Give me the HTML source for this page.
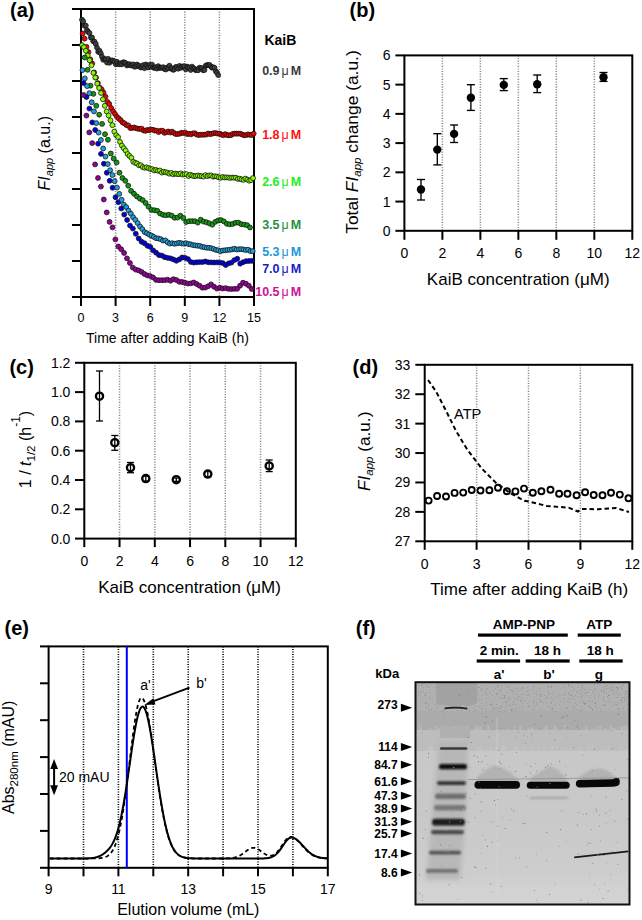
<!DOCTYPE html>
<html><head><meta charset="utf-8"><style>
html,body{margin:0;padding:0;background:#fff;width:642px;height:920px;overflow:hidden;}
svg{display:block;font-family:"Liberation Sans", sans-serif;}
</style></head><body>
<svg width="642" height="920" viewBox="0 0 642 920">
<rect width="642" height="920" fill="#fff"/>
<line x1="115.60" y1="9.00" x2="115.60" y2="297.00" stroke="#858585" stroke-width="1.5" stroke-dasharray="1.1,1.5"/>
<line x1="150.20" y1="9.00" x2="150.20" y2="297.00" stroke="#858585" stroke-width="1.5" stroke-dasharray="1.1,1.5"/>
<line x1="184.80" y1="9.00" x2="184.80" y2="297.00" stroke="#858585" stroke-width="1.5" stroke-dasharray="1.1,1.5"/>
<line x1="219.40" y1="9.00" x2="219.40" y2="297.00" stroke="#858585" stroke-width="1.5" stroke-dasharray="1.1,1.5"/>
<rect x="81" y="9" width="173" height="288" fill="none" stroke="#000" stroke-width="2"/>
<line x1="72.00" y1="9.00" x2="81.00" y2="9.00" stroke="#000" stroke-width="2" />
<line x1="72.00" y1="45.00" x2="81.00" y2="45.00" stroke="#000" stroke-width="2" />
<line x1="72.00" y1="81.00" x2="81.00" y2="81.00" stroke="#000" stroke-width="2" />
<line x1="72.00" y1="117.00" x2="81.00" y2="117.00" stroke="#000" stroke-width="2" />
<line x1="72.00" y1="153.00" x2="81.00" y2="153.00" stroke="#000" stroke-width="2" />
<line x1="72.00" y1="189.00" x2="81.00" y2="189.00" stroke="#000" stroke-width="2" />
<line x1="72.00" y1="225.00" x2="81.00" y2="225.00" stroke="#000" stroke-width="2" />
<line x1="72.00" y1="261.00" x2="81.00" y2="261.00" stroke="#000" stroke-width="2" />
<line x1="72.00" y1="297.00" x2="81.00" y2="297.00" stroke="#000" stroke-width="2" />
<line x1="81.00" y1="297.00" x2="81.00" y2="306.00" stroke="#000" stroke-width="2" />
<text x="81.00" y="321.50" font-size="12.5" text-anchor="middle" font-weight="normal" fill="#000" >0</text>
<line x1="115.60" y1="297.00" x2="115.60" y2="306.00" stroke="#000" stroke-width="2" />
<text x="115.60" y="321.50" font-size="12.5" text-anchor="middle" font-weight="normal" fill="#000" >3</text>
<line x1="150.20" y1="297.00" x2="150.20" y2="306.00" stroke="#000" stroke-width="2" />
<text x="150.20" y="321.50" font-size="12.5" text-anchor="middle" font-weight="normal" fill="#000" >6</text>
<line x1="184.80" y1="297.00" x2="184.80" y2="306.00" stroke="#000" stroke-width="2" />
<text x="184.80" y="321.50" font-size="12.5" text-anchor="middle" font-weight="normal" fill="#000" >9</text>
<line x1="219.40" y1="297.00" x2="219.40" y2="306.00" stroke="#000" stroke-width="2" />
<text x="219.40" y="321.50" font-size="12.5" text-anchor="middle" font-weight="normal" fill="#000" >12</text>
<line x1="254.00" y1="297.00" x2="254.00" y2="306.00" stroke="#000" stroke-width="2" />
<text x="254.00" y="321.50" font-size="12.5" text-anchor="middle" font-weight="normal" fill="#000" >15</text>
<text x="167.50" y="343.20" font-size="14" text-anchor="middle" font-weight="normal" fill="#000" >Time after adding KaiB (h)</text>
<text transform="translate(49.8,190.4) rotate(-90)" font-size="16"><tspan font-style="italic">FI</tspan><tspan font-style="italic" font-size="11" dy="3.5">app</tspan><tspan dy="-3.5"> (a.u.)</tspan></text>
<text x="10.00" y="17.20" font-size="20" text-anchor="start" font-weight="bold" fill="#000" >(a)</text>
<line x1="442.38" y1="55.40" x2="442.38" y2="230.80" stroke="#858585" stroke-width="1.5" stroke-dasharray="1.1,1.5"/>
<line x1="480.37" y1="55.40" x2="480.37" y2="230.80" stroke="#858585" stroke-width="1.5" stroke-dasharray="1.1,1.5"/>
<line x1="518.35" y1="55.40" x2="518.35" y2="230.80" stroke="#858585" stroke-width="1.5" stroke-dasharray="1.1,1.5"/>
<line x1="556.33" y1="55.40" x2="556.33" y2="230.80" stroke="#858585" stroke-width="1.5" stroke-dasharray="1.1,1.5"/>
<line x1="594.32" y1="55.40" x2="594.32" y2="230.80" stroke="#858585" stroke-width="1.5" stroke-dasharray="1.1,1.5"/>
<rect x="404.4" y="55.4" width="227.89999999999998" height="175.4" fill="none" stroke="#000" stroke-width="2"/>
<line x1="395.40" y1="230.80" x2="404.40" y2="230.80" stroke="#000" stroke-width="2" />
<text x="390.60" y="235.80" font-size="14" text-anchor="end" font-weight="normal" fill="#000" >0</text>
<line x1="395.40" y1="201.57" x2="404.40" y2="201.57" stroke="#000" stroke-width="2" />
<text x="390.60" y="206.57" font-size="14" text-anchor="end" font-weight="normal" fill="#000" >1</text>
<line x1="395.40" y1="172.33" x2="404.40" y2="172.33" stroke="#000" stroke-width="2" />
<text x="390.60" y="177.33" font-size="14" text-anchor="end" font-weight="normal" fill="#000" >2</text>
<line x1="395.40" y1="143.10" x2="404.40" y2="143.10" stroke="#000" stroke-width="2" />
<text x="390.60" y="148.10" font-size="14" text-anchor="end" font-weight="normal" fill="#000" >3</text>
<line x1="395.40" y1="113.87" x2="404.40" y2="113.87" stroke="#000" stroke-width="2" />
<text x="390.60" y="118.87" font-size="14" text-anchor="end" font-weight="normal" fill="#000" >4</text>
<line x1="395.40" y1="84.63" x2="404.40" y2="84.63" stroke="#000" stroke-width="2" />
<text x="390.60" y="89.63" font-size="14" text-anchor="end" font-weight="normal" fill="#000" >5</text>
<line x1="395.40" y1="55.40" x2="404.40" y2="55.40" stroke="#000" stroke-width="2" />
<text x="390.60" y="60.40" font-size="14" text-anchor="end" font-weight="normal" fill="#000" >6</text>
<line x1="404.40" y1="230.80" x2="404.40" y2="239.80" stroke="#000" stroke-width="2" />
<text x="404.40" y="257.60" font-size="14" text-anchor="middle" font-weight="normal" fill="#000" >0</text>
<line x1="442.38" y1="230.80" x2="442.38" y2="239.80" stroke="#000" stroke-width="2" />
<text x="442.38" y="257.60" font-size="14" text-anchor="middle" font-weight="normal" fill="#000" >2</text>
<line x1="480.37" y1="230.80" x2="480.37" y2="239.80" stroke="#000" stroke-width="2" />
<text x="480.37" y="257.60" font-size="14" text-anchor="middle" font-weight="normal" fill="#000" >4</text>
<line x1="518.35" y1="230.80" x2="518.35" y2="239.80" stroke="#000" stroke-width="2" />
<text x="518.35" y="257.60" font-size="14" text-anchor="middle" font-weight="normal" fill="#000" >6</text>
<line x1="556.33" y1="230.80" x2="556.33" y2="239.80" stroke="#000" stroke-width="2" />
<text x="556.33" y="257.60" font-size="14" text-anchor="middle" font-weight="normal" fill="#000" >8</text>
<line x1="594.32" y1="230.80" x2="594.32" y2="239.80" stroke="#000" stroke-width="2" />
<text x="594.32" y="257.60" font-size="14" text-anchor="middle" font-weight="normal" fill="#000" >10</text>
<line x1="632.30" y1="230.80" x2="632.30" y2="239.80" stroke="#000" stroke-width="2" />
<text x="632.30" y="257.60" font-size="14" text-anchor="middle" font-weight="normal" fill="#000" >12</text>
<text x="518.20" y="285.20" font-size="17" text-anchor="middle" font-weight="normal" fill="#000" >KaiB concentration (μM)</text>
<text transform="translate(357.8,233.8) rotate(-90)" font-size="17.4">Total <tspan font-style="italic">FI</tspan><tspan font-style="italic" font-size="11.5" dy="3.5">app</tspan><tspan dy="-3.5"> change (a.u.)</tspan></text>
<text x="349.60" y="16.90" font-size="20" text-anchor="start" font-weight="bold" fill="#000" >(b)</text>
<line x1="421.00" y1="179.50" x2="421.00" y2="200.00" stroke="#000" stroke-width="1.35" />
<line x1="417.00" y1="179.50" x2="425.00" y2="179.50" stroke="#000" stroke-width="1.35" />
<line x1="417.00" y1="200.00" x2="425.00" y2="200.00" stroke="#000" stroke-width="1.35" />
<circle cx="421" cy="189.5" r="4.2" fill="#000"/>
<line x1="437.30" y1="133.70" x2="437.30" y2="164.90" stroke="#000" stroke-width="1.35" />
<line x1="433.30" y1="133.70" x2="441.30" y2="133.70" stroke="#000" stroke-width="1.35" />
<line x1="433.30" y1="164.90" x2="441.30" y2="164.90" stroke="#000" stroke-width="1.35" />
<circle cx="437.3" cy="149.6" r="4.2" fill="#000"/>
<line x1="454.10" y1="125.00" x2="454.10" y2="142.50" stroke="#000" stroke-width="1.35" />
<line x1="450.10" y1="125.00" x2="458.10" y2="125.00" stroke="#000" stroke-width="1.35" />
<line x1="450.10" y1="142.50" x2="458.10" y2="142.50" stroke="#000" stroke-width="1.35" />
<circle cx="454.1" cy="133.9" r="4.2" fill="#000"/>
<line x1="470.90" y1="84.70" x2="470.90" y2="110.40" stroke="#000" stroke-width="1.35" />
<line x1="466.90" y1="84.70" x2="474.90" y2="84.70" stroke="#000" stroke-width="1.35" />
<line x1="466.90" y1="110.40" x2="474.90" y2="110.40" stroke="#000" stroke-width="1.35" />
<circle cx="470.9" cy="97.8" r="4.2" fill="#000"/>
<line x1="503.80" y1="78.60" x2="503.80" y2="90.60" stroke="#000" stroke-width="1.35" />
<line x1="499.80" y1="78.60" x2="507.80" y2="78.60" stroke="#000" stroke-width="1.35" />
<line x1="499.80" y1="90.60" x2="507.80" y2="90.60" stroke="#000" stroke-width="1.35" />
<circle cx="503.8" cy="84.9" r="4.2" fill="#000"/>
<line x1="537.20" y1="75.00" x2="537.20" y2="92.60" stroke="#000" stroke-width="1.35" />
<line x1="533.20" y1="75.00" x2="541.20" y2="75.00" stroke="#000" stroke-width="1.35" />
<line x1="533.20" y1="92.60" x2="541.20" y2="92.60" stroke="#000" stroke-width="1.35" />
<circle cx="537.2" cy="84.2" r="4.2" fill="#000"/>
<line x1="603.50" y1="72.50" x2="603.50" y2="81.40" stroke="#000" stroke-width="1.35" />
<line x1="599.50" y1="72.50" x2="607.50" y2="72.50" stroke="#000" stroke-width="1.35" />
<line x1="599.50" y1="81.40" x2="607.50" y2="81.40" stroke="#000" stroke-width="1.35" />
<circle cx="603.5" cy="77.2" r="4.2" fill="#000"/>
<line x1="119.55" y1="362.80" x2="119.55" y2="538.60" stroke="#858585" stroke-width="1.5" stroke-dasharray="1.1,1.5"/>
<line x1="154.80" y1="362.80" x2="154.80" y2="538.60" stroke="#858585" stroke-width="1.5" stroke-dasharray="1.1,1.5"/>
<line x1="190.05" y1="362.80" x2="190.05" y2="538.60" stroke="#858585" stroke-width="1.5" stroke-dasharray="1.1,1.5"/>
<line x1="225.30" y1="362.80" x2="225.30" y2="538.60" stroke="#858585" stroke-width="1.5" stroke-dasharray="1.1,1.5"/>
<line x1="260.55" y1="362.80" x2="260.55" y2="538.60" stroke="#858585" stroke-width="1.5" stroke-dasharray="1.1,1.5"/>
<rect x="84.3" y="362.8" width="211.5" height="175.8" fill="none" stroke="#000" stroke-width="2"/>
<line x1="75.00" y1="538.60" x2="84.30" y2="538.60" stroke="#000" stroke-width="2" />
<text x="70.40" y="543.60" font-size="14" text-anchor="end" font-weight="normal" fill="#000" >0.0</text>
<line x1="75.00" y1="509.30" x2="84.30" y2="509.30" stroke="#000" stroke-width="2" />
<text x="70.40" y="514.30" font-size="14" text-anchor="end" font-weight="normal" fill="#000" >0.2</text>
<line x1="75.00" y1="480.00" x2="84.30" y2="480.00" stroke="#000" stroke-width="2" />
<text x="70.40" y="485.00" font-size="14" text-anchor="end" font-weight="normal" fill="#000" >0.4</text>
<line x1="75.00" y1="450.70" x2="84.30" y2="450.70" stroke="#000" stroke-width="2" />
<text x="70.40" y="455.70" font-size="14" text-anchor="end" font-weight="normal" fill="#000" >0.6</text>
<line x1="75.00" y1="421.40" x2="84.30" y2="421.40" stroke="#000" stroke-width="2" />
<text x="70.40" y="426.40" font-size="14" text-anchor="end" font-weight="normal" fill="#000" >0.8</text>
<line x1="75.00" y1="392.10" x2="84.30" y2="392.10" stroke="#000" stroke-width="2" />
<text x="70.40" y="397.10" font-size="14" text-anchor="end" font-weight="normal" fill="#000" >1.0</text>
<line x1="75.00" y1="362.80" x2="84.30" y2="362.80" stroke="#000" stroke-width="2" />
<text x="70.40" y="367.80" font-size="14" text-anchor="end" font-weight="normal" fill="#000" >1.2</text>
<line x1="84.30" y1="538.60" x2="84.30" y2="547.10" stroke="#000" stroke-width="2" />
<text x="84.30" y="566.00" font-size="14" text-anchor="middle" font-weight="normal" fill="#000" >0</text>
<line x1="119.55" y1="538.60" x2="119.55" y2="547.10" stroke="#000" stroke-width="2" />
<text x="119.55" y="566.00" font-size="14" text-anchor="middle" font-weight="normal" fill="#000" >2</text>
<line x1="154.80" y1="538.60" x2="154.80" y2="547.10" stroke="#000" stroke-width="2" />
<text x="154.80" y="566.00" font-size="14" text-anchor="middle" font-weight="normal" fill="#000" >4</text>
<line x1="190.05" y1="538.60" x2="190.05" y2="547.10" stroke="#000" stroke-width="2" />
<text x="190.05" y="566.00" font-size="14" text-anchor="middle" font-weight="normal" fill="#000" >6</text>
<line x1="225.30" y1="538.60" x2="225.30" y2="547.10" stroke="#000" stroke-width="2" />
<text x="225.30" y="566.00" font-size="14" text-anchor="middle" font-weight="normal" fill="#000" >8</text>
<line x1="260.55" y1="538.60" x2="260.55" y2="547.10" stroke="#000" stroke-width="2" />
<text x="260.55" y="566.00" font-size="14" text-anchor="middle" font-weight="normal" fill="#000" >10</text>
<line x1="295.80" y1="538.60" x2="295.80" y2="547.10" stroke="#000" stroke-width="2" />
<text x="295.80" y="566.00" font-size="14" text-anchor="middle" font-weight="normal" fill="#000" >12</text>
<text x="189.60" y="592.50" font-size="17" text-anchor="middle" font-weight="normal" fill="#000" >KaiB concentration (μM)</text>
<text transform="translate(30.9,488.2) rotate(-90)" font-size="16">1 / <tspan font-style="italic">t</tspan><tspan font-size="11.5" dy="3.8">1/2</tspan><tspan dy="-3.8"> (h</tspan><tspan font-size="12" dy="-11">-1</tspan><tspan dy="11">)</tspan></text>
<text x="9.40" y="374.40" font-size="20" text-anchor="start" font-weight="bold" fill="#000" >(c)</text>
<circle cx="99.5" cy="396.2" r="3.6" fill="#fff" stroke="#000" stroke-width="2.3"/>
<line x1="99.50" y1="371.00" x2="99.50" y2="421.00" stroke="#000" stroke-width="1.3" />
<line x1="96.00" y1="371.00" x2="103.00" y2="371.00" stroke="#000" stroke-width="1.3" />
<line x1="96.00" y1="421.00" x2="103.00" y2="421.00" stroke="#000" stroke-width="1.3" />
<circle cx="114.8" cy="442.7" r="3.6" fill="#fff" stroke="#000" stroke-width="2.3"/>
<line x1="114.80" y1="435.50" x2="114.80" y2="450.30" stroke="#000" stroke-width="1.3" />
<line x1="111.30" y1="435.50" x2="118.30" y2="435.50" stroke="#000" stroke-width="1.3" />
<line x1="111.30" y1="450.30" x2="118.30" y2="450.30" stroke="#000" stroke-width="1.3" />
<circle cx="130.5" cy="467.7" r="3.6" fill="#fff" stroke="#000" stroke-width="2.3"/>
<line x1="130.50" y1="462.50" x2="130.50" y2="472.70" stroke="#000" stroke-width="1.3" />
<line x1="127.00" y1="462.50" x2="134.00" y2="462.50" stroke="#000" stroke-width="1.3" />
<line x1="127.00" y1="472.70" x2="134.00" y2="472.70" stroke="#000" stroke-width="1.3" />
<circle cx="145.8" cy="478.6" r="3.6" fill="#fff" stroke="#000" stroke-width="2.3"/>
<line x1="145.80" y1="476.00" x2="145.80" y2="481.20" stroke="#000" stroke-width="1.3" />
<line x1="142.30" y1="476.00" x2="149.30" y2="476.00" stroke="#000" stroke-width="1.3" />
<line x1="142.30" y1="481.20" x2="149.30" y2="481.20" stroke="#000" stroke-width="1.3" />
<circle cx="176.3" cy="479.7" r="3.6" fill="#fff" stroke="#000" stroke-width="2.3"/>
<line x1="176.30" y1="478.00" x2="176.30" y2="481.40" stroke="#000" stroke-width="1.3" />
<line x1="172.80" y1="478.00" x2="179.80" y2="478.00" stroke="#000" stroke-width="1.3" />
<line x1="172.80" y1="481.40" x2="179.80" y2="481.40" stroke="#000" stroke-width="1.3" />
<circle cx="207.8" cy="474.1" r="3.6" fill="#fff" stroke="#000" stroke-width="2.3"/>
<line x1="207.80" y1="471.50" x2="207.80" y2="476.70" stroke="#000" stroke-width="1.3" />
<line x1="204.30" y1="471.50" x2="211.30" y2="471.50" stroke="#000" stroke-width="1.3" />
<line x1="204.30" y1="476.70" x2="211.30" y2="476.70" stroke="#000" stroke-width="1.3" />
<circle cx="269.2" cy="465.9" r="3.6" fill="#fff" stroke="#000" stroke-width="2.3"/>
<line x1="269.20" y1="460.00" x2="269.20" y2="471.60" stroke="#000" stroke-width="1.3" />
<line x1="265.70" y1="460.00" x2="272.70" y2="460.00" stroke="#000" stroke-width="1.3" />
<line x1="265.70" y1="471.60" x2="272.70" y2="471.60" stroke="#000" stroke-width="1.3" />
<line x1="476.60" y1="364.80" x2="476.60" y2="541.30" stroke="#858585" stroke-width="1.5" stroke-dasharray="1.1,1.5"/>
<line x1="528.50" y1="364.80" x2="528.50" y2="541.30" stroke="#858585" stroke-width="1.5" stroke-dasharray="1.1,1.5"/>
<line x1="580.40" y1="364.80" x2="580.40" y2="541.30" stroke="#858585" stroke-width="1.5" stroke-dasharray="1.1,1.5"/>
<rect x="424.7" y="364.8" width="207.59999999999997" height="176.49999999999994" fill="none" stroke="#000" stroke-width="2"/>
<line x1="415.30" y1="541.30" x2="424.70" y2="541.30" stroke="#000" stroke-width="2" />
<text x="410.30" y="546.30" font-size="14" text-anchor="end" font-weight="normal" fill="#000" >27</text>
<line x1="415.30" y1="511.88" x2="424.70" y2="511.88" stroke="#000" stroke-width="2" />
<text x="410.30" y="516.88" font-size="14" text-anchor="end" font-weight="normal" fill="#000" >28</text>
<line x1="415.30" y1="482.47" x2="424.70" y2="482.47" stroke="#000" stroke-width="2" />
<text x="410.30" y="487.47" font-size="14" text-anchor="end" font-weight="normal" fill="#000" >29</text>
<line x1="415.30" y1="453.05" x2="424.70" y2="453.05" stroke="#000" stroke-width="2" />
<text x="410.30" y="458.05" font-size="14" text-anchor="end" font-weight="normal" fill="#000" >30</text>
<line x1="415.30" y1="423.63" x2="424.70" y2="423.63" stroke="#000" stroke-width="2" />
<text x="410.30" y="428.63" font-size="14" text-anchor="end" font-weight="normal" fill="#000" >31</text>
<line x1="415.30" y1="394.22" x2="424.70" y2="394.22" stroke="#000" stroke-width="2" />
<text x="410.30" y="399.22" font-size="14" text-anchor="end" font-weight="normal" fill="#000" >32</text>
<line x1="415.30" y1="364.80" x2="424.70" y2="364.80" stroke="#000" stroke-width="2" />
<text x="410.30" y="369.80" font-size="14" text-anchor="end" font-weight="normal" fill="#000" >33</text>
<line x1="424.70" y1="541.30" x2="424.70" y2="549.80" stroke="#000" stroke-width="2" />
<text x="424.70" y="569.00" font-size="14" text-anchor="middle" font-weight="normal" fill="#000" >0</text>
<line x1="476.60" y1="541.30" x2="476.60" y2="549.80" stroke="#000" stroke-width="2" />
<text x="476.60" y="569.00" font-size="14" text-anchor="middle" font-weight="normal" fill="#000" >3</text>
<line x1="528.50" y1="541.30" x2="528.50" y2="549.80" stroke="#000" stroke-width="2" />
<text x="528.50" y="569.00" font-size="14" text-anchor="middle" font-weight="normal" fill="#000" >6</text>
<line x1="580.40" y1="541.30" x2="580.40" y2="549.80" stroke="#000" stroke-width="2" />
<text x="580.40" y="569.00" font-size="14" text-anchor="middle" font-weight="normal" fill="#000" >9</text>
<line x1="632.30" y1="541.30" x2="632.30" y2="549.80" stroke="#000" stroke-width="2" />
<text x="632.30" y="569.00" font-size="14" text-anchor="middle" font-weight="normal" fill="#000" >12</text>
<text x="529.20" y="594.80" font-size="17" text-anchor="middle" font-weight="normal" fill="#000" >Time after adding KaiB (h)</text>
<text transform="translate(369.6,491) rotate(-90)" font-size="17.2"><tspan font-style="italic">FI</tspan><tspan font-style="italic" font-size="11.5" dy="3.5">app</tspan><tspan dy="-3.5"> (a.u.)</tspan></text>
<text x="352.60" y="374.00" font-size="20" text-anchor="start" font-weight="bold" fill="#000" >(d)</text>
<text x="454.00" y="418.50" font-size="14.6" text-anchor="start" font-weight="normal" fill="#000" >ATP</text>
<circle cx="428.6" cy="500.6" r="3.0" fill="#fff" stroke="#000" stroke-width="1.9"/>
<circle cx="437.1" cy="496.0" r="3.0" fill="#fff" stroke="#000" stroke-width="1.9"/>
<circle cx="446.0" cy="496.5" r="3.0" fill="#fff" stroke="#000" stroke-width="1.9"/>
<circle cx="454.6" cy="492.9" r="3.0" fill="#fff" stroke="#000" stroke-width="1.9"/>
<circle cx="463.2" cy="492.6" r="3.0" fill="#fff" stroke="#000" stroke-width="1.9"/>
<circle cx="471.7" cy="490.0" r="3.0" fill="#fff" stroke="#000" stroke-width="1.9"/>
<circle cx="480.5" cy="490.5" r="3.0" fill="#fff" stroke="#000" stroke-width="1.9"/>
<circle cx="489.4" cy="490.2" r="3.0" fill="#fff" stroke="#000" stroke-width="1.9"/>
<circle cx="498.0" cy="487.8" r="3.0" fill="#fff" stroke="#000" stroke-width="1.9"/>
<circle cx="506.9" cy="491.2" r="3.0" fill="#fff" stroke="#000" stroke-width="1.9"/>
<circle cx="515.4" cy="491.4" r="3.0" fill="#fff" stroke="#000" stroke-width="1.9"/>
<circle cx="524.0" cy="488.6" r="3.0" fill="#fff" stroke="#000" stroke-width="1.9"/>
<circle cx="532.8" cy="492.8" r="3.0" fill="#fff" stroke="#000" stroke-width="1.9"/>
<circle cx="541.4" cy="491.3" r="3.0" fill="#fff" stroke="#000" stroke-width="1.9"/>
<circle cx="550.5" cy="489.7" r="3.0" fill="#fff" stroke="#000" stroke-width="1.9"/>
<circle cx="559.1" cy="493.7" r="3.0" fill="#fff" stroke="#000" stroke-width="1.9"/>
<circle cx="567.5" cy="493.7" r="3.0" fill="#fff" stroke="#000" stroke-width="1.9"/>
<circle cx="576.6" cy="495.2" r="3.0" fill="#fff" stroke="#000" stroke-width="1.9"/>
<circle cx="585.1" cy="492.3" r="3.0" fill="#fff" stroke="#000" stroke-width="1.9"/>
<circle cx="593.7" cy="495.0" r="3.0" fill="#fff" stroke="#000" stroke-width="1.9"/>
<circle cx="602.5" cy="495.2" r="3.0" fill="#fff" stroke="#000" stroke-width="1.9"/>
<circle cx="611.0" cy="492.8" r="3.0" fill="#fff" stroke="#000" stroke-width="1.9"/>
<circle cx="619.8" cy="494.6" r="3.0" fill="#fff" stroke="#000" stroke-width="1.9"/>
<circle cx="628.5" cy="498.3" r="3.0" fill="#fff" stroke="#000" stroke-width="1.9"/>
<path d="M428.1,380.0 L436.2,391.8 L446.2,411.1 L456.1,431.1 L467.4,449.8 L481.7,468.4 L495.4,482.3 L510.0,493.0 L524.5,500.8 L528.6,501.5 L541.4,504.6 L546.9,506.0 L568.7,507.7 L577.9,511.5 L581.5,509.0 L597.9,509.2 L616.1,508.0 L628.9,512.0" fill="none" stroke="#000" stroke-width="2" stroke-dasharray="4.5,3"/>
<line x1="83.50" y1="646.40" x2="83.50" y2="867.80" stroke="#000" stroke-width="1.6" stroke-dasharray="1.1,1.4"/>
<line x1="118.40" y1="646.40" x2="118.40" y2="867.80" stroke="#000" stroke-width="1.6" stroke-dasharray="1.1,1.4"/>
<line x1="153.30" y1="646.40" x2="153.30" y2="867.80" stroke="#000" stroke-width="1.6" stroke-dasharray="1.1,1.4"/>
<line x1="188.20" y1="646.40" x2="188.20" y2="867.80" stroke="#000" stroke-width="1.6" stroke-dasharray="1.1,1.4"/>
<line x1="223.10" y1="646.40" x2="223.10" y2="867.80" stroke="#000" stroke-width="1.6" stroke-dasharray="1.1,1.4"/>
<line x1="258.00" y1="646.40" x2="258.00" y2="867.80" stroke="#000" stroke-width="1.6" stroke-dasharray="1.1,1.4"/>
<line x1="292.90" y1="646.40" x2="292.90" y2="867.80" stroke="#000" stroke-width="1.6" stroke-dasharray="1.1,1.4"/>
<rect x="48.6" y="646.4" width="279.2" height="221.39999999999998" fill="none" stroke="#000" stroke-width="2"/>
<line x1="40.00" y1="646.40" x2="48.60" y2="646.40" stroke="#000" stroke-width="2" />
<line x1="40.00" y1="683.30" x2="48.60" y2="683.30" stroke="#000" stroke-width="2" />
<line x1="40.00" y1="720.20" x2="48.60" y2="720.20" stroke="#000" stroke-width="2" />
<line x1="40.00" y1="757.10" x2="48.60" y2="757.10" stroke="#000" stroke-width="2" />
<line x1="40.00" y1="794.00" x2="48.60" y2="794.00" stroke="#000" stroke-width="2" />
<line x1="40.00" y1="830.90" x2="48.60" y2="830.90" stroke="#000" stroke-width="2" />
<line x1="40.00" y1="867.80" x2="48.60" y2="867.80" stroke="#000" stroke-width="2" />
<line x1="48.60" y1="867.80" x2="48.60" y2="876.30" stroke="#000" stroke-width="2" />
<text x="48.60" y="894.00" font-size="14" text-anchor="middle" font-weight="normal" fill="#000" >9</text>
<line x1="83.50" y1="867.80" x2="83.50" y2="876.30" stroke="#000" stroke-width="2" />
<line x1="118.40" y1="867.80" x2="118.40" y2="876.30" stroke="#000" stroke-width="2" />
<text x="118.40" y="894.00" font-size="14" text-anchor="middle" font-weight="normal" fill="#000" >11</text>
<line x1="153.30" y1="867.80" x2="153.30" y2="876.30" stroke="#000" stroke-width="2" />
<line x1="188.20" y1="867.80" x2="188.20" y2="876.30" stroke="#000" stroke-width="2" />
<text x="188.20" y="894.00" font-size="14" text-anchor="middle" font-weight="normal" fill="#000" >13</text>
<line x1="223.10" y1="867.80" x2="223.10" y2="876.30" stroke="#000" stroke-width="2" />
<line x1="258.00" y1="867.80" x2="258.00" y2="876.30" stroke="#000" stroke-width="2" />
<text x="258.00" y="894.00" font-size="14" text-anchor="middle" font-weight="normal" fill="#000" >15</text>
<line x1="292.90" y1="867.80" x2="292.90" y2="876.30" stroke="#000" stroke-width="2" />
<line x1="327.80" y1="867.80" x2="327.80" y2="876.30" stroke="#000" stroke-width="2" />
<text x="327.80" y="894.00" font-size="14" text-anchor="middle" font-weight="normal" fill="#000" >17</text>
<text x="188.30" y="915.20" font-size="16" text-anchor="middle" font-weight="normal" fill="#000" >Elution volume (mL)</text>
<text transform="translate(14.2,814) rotate(-90)" font-size="16">Abs<tspan font-size="11.5" dy="3.5">280nm</tspan><tspan dy="-3.5"> (mAU)</tspan></text>
<text x="4.50" y="635.00" font-size="20" text-anchor="start" font-weight="bold" fill="#000" >(e)</text>
<line x1="126.80" y1="646.40" x2="126.80" y2="867.80" stroke="#0000ff" stroke-width="2" />
<path d="M49.6,858.50 L50.1,858.50 L50.6,858.50 L51.1,858.50 L51.6,858.50 L52.1,858.50 L52.6,858.50 L53.1,858.50 L53.6,858.50 L54.1,858.50 L54.6,858.50 L55.1,858.50 L55.6,858.50 L56.1,858.50 L56.6,858.50 L57.1,858.50 L57.6,858.50 L58.1,858.50 L58.6,858.50 L59.1,858.50 L59.6,858.50 L60.1,858.50 L60.6,858.50 L61.1,858.50 L61.6,858.50 L62.1,858.50 L62.6,858.50 L63.1,858.50 L63.6,858.50 L64.1,858.50 L64.6,858.50 L65.1,858.50 L65.6,858.50 L66.1,858.50 L66.6,858.50 L67.1,858.50 L67.6,858.50 L68.1,858.50 L68.6,858.50 L69.1,858.50 L69.6,858.50 L70.1,858.50 L70.6,858.50 L71.1,858.50 L71.6,858.50 L72.1,858.50 L72.6,858.50 L73.1,858.50 L73.6,858.50 L74.1,858.50 L74.6,858.50 L75.1,858.50 L75.6,858.50 L76.1,858.50 L76.6,858.50 L77.1,858.50 L77.6,858.50 L78.1,858.50 L78.6,858.50 L79.1,858.50 L79.6,858.50 L80.1,858.49 L80.6,858.49 L81.1,858.49 L81.6,858.49 L82.1,858.49 L82.6,858.48 L83.1,858.48 L83.6,858.48 L84.1,858.47 L84.6,858.47 L85.1,858.46 L85.6,858.45 L86.1,858.44 L86.6,858.43 L87.1,858.41 L87.6,858.40 L88.1,858.38 L88.6,858.36 L89.1,858.33 L89.6,858.30 L90.1,858.27 L90.6,858.23 L91.1,858.19 L91.6,858.14 L92.1,858.08 L92.6,858.02 L93.1,857.95 L93.6,857.87 L94.1,857.78 L94.6,857.68 L95.1,857.58 L95.6,857.46 L96.1,857.33 L96.6,857.19 L97.1,857.04 L97.6,856.87 L98.1,856.69 L98.6,856.50 L99.1,856.29 L99.6,856.07 L100.1,855.83 L100.6,855.58 L101.1,855.32 L101.6,855.03 L102.1,854.74 L102.6,854.42 L103.1,854.09 L103.6,853.75 L104.1,853.38 L104.6,853.00 L105.1,852.60 L105.6,852.19 L106.1,851.75 L106.6,851.29 L107.1,850.81 L107.6,850.31 L108.1,849.78 L108.6,849.22 L109.1,848.64 L109.6,848.02 L110.1,847.37 L110.6,846.68 L111.1,845.95 L111.6,845.17 L112.1,844.35 L112.6,843.48 L113.1,842.55 L113.6,841.56 L114.1,840.51 L114.6,839.38 L115.1,838.19 L115.6,836.92 L116.1,835.57 L116.6,834.14 L117.1,832.62 L117.6,831.01 L118.1,829.30 L118.6,827.50 L119.1,825.59 L119.6,823.59 L120.1,821.49 L120.6,819.28 L121.1,816.97 L121.6,814.56 L122.1,812.04 L122.6,809.43 L123.1,806.72 L123.6,803.91 L124.1,801.01 L124.6,798.02 L125.1,794.95 L125.6,791.81 L126.1,788.59 L126.6,785.31 L127.1,781.98 L127.6,778.59 L128.1,775.17 L128.6,771.72 L129.1,768.25 L129.6,764.76 L130.1,761.28 L130.6,757.81 L131.1,754.36 L131.6,750.94 L132.1,747.57 L132.6,744.26 L133.1,741.02 L133.6,737.85 L134.1,734.78 L134.6,731.82 L135.1,728.97 L135.6,726.25 L136.1,723.67 L136.6,721.23 L137.1,718.96 L137.6,716.85 L138.1,714.92 L138.6,713.18 L139.1,711.63 L139.6,710.27 L140.1,709.12 L140.6,708.19 L141.1,707.46 L141.6,706.96 L142.1,706.67 L142.6,706.60 L143.1,706.76 L143.6,707.13 L144.1,707.71 L144.6,708.51 L145.1,709.52 L145.6,710.73 L146.1,712.15 L146.6,713.75 L147.1,715.55 L147.6,717.52 L148.1,719.67 L148.6,721.98 L149.1,724.45 L149.6,727.06 L150.1,729.80 L150.6,732.67 L151.1,735.65 L151.6,738.73 L152.1,741.90 L152.6,745.15 L153.1,748.47 L153.6,751.84 L154.1,755.26 L154.6,758.71 L155.1,762.18 L155.6,765.67 L156.1,769.16 L156.6,772.64 L157.1,776.10 L157.6,779.54 L158.1,782.94 L158.6,786.30 L159.1,789.61 L159.6,792.86 L160.1,796.05 L160.6,799.17 L161.1,802.21 L161.6,805.18 L162.1,808.06 L162.6,810.85 L163.1,813.55 L163.6,816.16 L164.1,818.68 L164.6,821.10 L165.1,823.42 L165.6,825.65 L166.1,827.78 L166.6,829.81 L167.1,831.75 L167.6,833.59 L168.1,835.34 L168.6,836.99 L169.1,838.56 L169.6,840.04 L170.1,841.43 L170.6,842.74 L171.1,843.97 L171.6,845.13 L172.1,846.21 L172.6,847.22 L173.1,848.16 L173.6,849.03 L174.1,849.85 L174.6,850.60 L175.1,851.30 L175.6,851.95 L176.1,852.55 L176.6,853.10 L177.1,853.61 L177.6,854.07 L178.1,854.50 L178.6,854.89 L179.1,855.25 L179.6,855.57 L180.1,855.87 L180.6,856.14 L181.1,856.39 L181.6,856.61 L182.1,856.81 L182.6,856.99 L183.1,857.16 L183.6,857.31 L184.1,857.44 L184.6,857.56 L185.1,857.67 L185.6,857.76 L186.1,857.85 L186.6,857.93 L187.1,858.00 L187.6,858.06 L188.1,858.11 L188.6,858.16 L189.1,858.20 L189.6,858.24 L190.1,858.27 L190.6,858.30 L191.1,858.33 L191.6,858.35 L192.1,858.37 L192.6,858.39 L193.1,858.40 L193.6,858.42 L194.1,858.43 L194.6,858.44 L195.1,858.45 L195.6,858.45 L196.1,858.46 L196.6,858.47 L197.1,858.47 L197.6,858.48 L198.1,858.48 L198.6,858.48 L199.1,858.48 L199.6,858.49 L200.1,858.49 L200.6,858.49 L201.1,858.49 L201.6,858.49 L202.1,858.49 L202.6,858.50 L203.1,858.50 L203.6,858.50 L204.1,858.50 L204.6,858.50 L205.1,858.50 L205.6,858.50 L206.1,858.50 L206.6,858.50 L207.1,858.50 L207.6,858.50 L208.1,858.50 L208.6,858.50 L209.1,858.50 L209.6,858.50 L210.1,858.50 L210.6,858.50 L211.1,858.50 L211.6,858.50 L212.1,858.50 L212.6,858.50 L213.1,858.50 L213.6,858.50 L214.1,858.50 L214.6,858.50 L215.1,858.50 L215.6,858.50 L216.1,858.50 L216.6,858.50 L217.1,858.50 L217.6,858.50 L218.1,858.50 L218.6,858.50 L219.1,858.50 L219.6,858.50 L220.1,858.50 L220.6,858.50 L221.1,858.50 L221.6,858.50 L222.1,858.50 L222.6,858.50 L223.1,858.50 L223.6,858.50 L224.1,858.50 L224.6,858.50 L225.1,858.50 L225.6,858.50 L226.1,858.50 L226.6,858.50 L227.1,858.50 L227.6,858.50 L228.1,858.50 L228.6,858.50 L229.1,858.50 L229.6,858.50 L230.1,858.50 L230.6,858.50 L231.1,858.50 L231.6,858.50 L232.1,858.50 L232.6,858.50 L233.1,858.50 L233.6,858.50 L234.1,858.50 L234.6,858.50 L235.1,858.50 L235.6,858.50 L236.1,858.50 L236.6,858.50 L237.1,858.50 L237.6,858.50 L238.1,858.50 L238.6,858.50 L239.1,858.50 L239.6,858.50 L240.1,858.50 L240.6,858.50 L241.1,858.50 L241.6,858.50 L242.1,858.50 L242.6,858.50 L243.1,858.50 L243.6,858.50 L244.1,858.50 L244.6,858.50 L245.1,858.50 L245.6,858.50 L246.1,858.50 L246.6,858.50 L247.1,858.50 L247.6,858.50 L248.1,858.50 L248.6,858.50 L249.1,858.50 L249.6,858.50 L250.1,858.50 L250.6,858.50 L251.1,858.50 L251.6,858.50 L252.1,858.50 L252.6,858.50 L253.1,858.50 L253.6,858.50 L254.1,858.50 L254.6,858.50 L255.1,858.50 L255.6,858.50 L256.1,858.50 L256.6,858.50 L257.1,858.49 L257.6,858.49 L258.1,858.49 L258.6,858.49 L259.1,858.48 L259.6,858.48 L260.1,858.48 L260.6,858.47 L261.1,858.46 L261.6,858.45 L262.1,858.44 L262.6,858.43 L263.1,858.42 L263.6,858.40 L264.1,858.38 L264.6,858.35 L265.1,858.32 L265.6,858.29 L266.1,858.25 L266.6,858.20 L267.1,858.15 L267.6,858.08 L268.1,858.01 L268.6,857.92 L269.1,857.83 L269.6,857.72 L270.1,857.59 L270.6,857.45 L271.1,857.29 L271.6,857.11 L272.1,856.91 L272.6,856.68 L273.1,856.43 L273.6,856.16 L274.1,855.85 L274.6,855.52 L275.1,855.16 L275.6,854.77 L276.1,854.34 L276.6,853.89 L277.1,853.40 L277.6,852.88 L278.1,852.33 L278.6,851.74 L279.1,851.13 L279.6,850.49 L280.1,849.82 L280.6,849.13 L281.1,848.42 L281.6,847.70 L282.1,846.96 L282.6,846.21 L283.1,845.46 L283.6,844.72 L284.1,843.98 L284.6,843.25 L285.1,842.54 L285.6,841.86 L286.1,841.21 L286.6,840.60 L287.1,840.02 L287.6,839.50 L288.1,839.02 L288.6,838.61 L289.1,838.25 L289.6,837.97 L290.1,837.74 L290.6,837.59 L291.1,837.51 L291.6,837.50 L292.1,837.54 L292.6,837.61 L293.1,837.73 L293.6,837.88 L294.1,838.07 L294.6,838.30 L295.1,838.56 L295.6,838.85 L296.1,839.18 L296.6,839.54 L297.1,839.93 L297.6,840.34 L298.1,840.78 L298.6,841.24 L299.1,841.72 L299.6,842.21 L300.1,842.73 L300.6,843.25 L301.1,843.79 L301.6,844.33 L302.1,844.88 L302.6,845.43 L303.1,845.98 L303.6,846.54 L304.1,847.09 L304.6,847.63 L305.1,848.17 L305.6,848.70 L306.1,849.22 L306.6,849.73 L307.1,850.23 L307.6,850.71 L308.1,851.18 L308.6,851.64 L309.1,852.08 L309.6,852.50 L310.1,852.90 L310.6,853.29 L311.1,853.66 L311.6,854.01 L312.1,854.34 L312.6,854.66 L313.1,854.96 L313.6,855.24 L314.1,855.51 L314.6,855.76 L315.1,855.99 L315.6,856.21 L316.1,856.41 L316.6,856.60 L317.1,856.77 L317.6,856.93 L318.1,857.08 L318.6,857.22 L319.1,857.35 L319.6,857.46 L320.1,857.57 L320.6,857.66 L321.1,857.75 L321.6,857.83 L322.1,857.90 L322.6,857.97 L323.1,858.03 L323.6,858.08 L324.1,858.13 L324.6,858.17 L325.1,858.21 L325.6,858.25 L326.1,858.28 L326.6,858.31 L327.1,858.33" fill="none" stroke="#000" stroke-width="2"/>
<path d="M49.6,858.50 L50.1,858.50 L50.6,858.50 L51.1,858.50 L51.6,858.50 L52.1,858.50 L52.6,858.50 L53.1,858.50 L53.6,858.50 L54.1,858.50 L54.6,858.50 L55.1,858.50 L55.6,858.50 L56.1,858.50 L56.6,858.50 L57.1,858.50 L57.6,858.50 L58.1,858.50 L58.6,858.50 L59.1,858.50 L59.6,858.50 L60.1,858.50 L60.6,858.50 L61.1,858.50 L61.6,858.50 L62.1,858.50 L62.6,858.50 L63.1,858.50 L63.6,858.50 L64.1,858.50 L64.6,858.50 L65.1,858.50 L65.6,858.50 L66.1,858.50 L66.6,858.50 L67.1,858.50 L67.6,858.50 L68.1,858.50 L68.6,858.50 L69.1,858.50 L69.6,858.50 L70.1,858.50 L70.6,858.50 L71.1,858.50 L71.6,858.50 L72.1,858.50 L72.6,858.50 L73.1,858.50 L73.6,858.50 L74.1,858.50 L74.6,858.50 L75.1,858.50 L75.6,858.50 L76.1,858.50 L76.6,858.50 L77.1,858.50 L77.6,858.50 L78.1,858.50 L78.6,858.50 L79.1,858.50 L79.6,858.50 L80.1,858.50 L80.6,858.50 L81.1,858.50 L81.6,858.50 L82.1,858.50 L82.6,858.50 L83.1,858.50 L83.6,858.50 L84.1,858.50 L84.6,858.50 L85.1,858.50 L85.6,858.50 L86.1,858.50 L86.6,858.50 L87.1,858.50 L87.6,858.50 L88.1,858.49 L88.6,858.49 L89.1,858.49 L89.6,858.49 L90.1,858.49 L90.6,858.49 L91.1,858.48 L91.6,858.48 L92.1,858.47 L92.6,858.47 L93.1,858.46 L93.6,858.46 L94.1,858.45 L94.6,858.44 L95.1,858.43 L95.6,858.42 L96.1,858.40 L96.6,858.38 L97.1,858.36 L97.6,858.34 L98.1,858.31 L98.6,858.28 L99.1,858.25 L99.6,858.21 L100.1,858.16 L100.6,858.10 L101.1,858.04 L101.6,857.97 L102.1,857.89 L102.6,857.80 L103.1,857.69 L103.6,857.58 L104.1,857.44 L104.6,857.29 L105.1,857.12 L105.6,856.93 L106.1,856.71 L106.6,856.47 L107.1,856.21 L107.6,855.91 L108.1,855.57 L108.6,855.20 L109.1,854.79 L109.6,854.34 L110.1,853.84 L110.6,853.29 L111.1,852.68 L111.6,852.02 L112.1,851.29 L112.6,850.49 L113.1,849.62 L113.6,848.68 L114.1,847.66 L114.6,846.55 L115.1,845.34 L115.6,844.05 L116.1,842.66 L116.6,841.16 L117.1,839.55 L117.6,837.84 L118.1,836.00 L118.6,834.06 L119.1,831.98 L119.6,829.79 L120.1,827.47 L120.6,825.02 L121.1,822.44 L121.6,819.74 L122.1,816.90 L122.6,813.94 L123.1,810.85 L123.6,807.65 L124.1,804.32 L124.6,800.88 L125.1,797.33 L125.6,793.67 L126.1,789.93 L126.6,786.09 L127.1,782.18 L127.6,778.20 L128.1,774.17 L128.6,770.09 L129.1,765.98 L129.6,761.86 L130.1,757.73 L130.6,753.61 L131.1,749.52 L131.6,745.48 L132.1,741.49 L132.6,737.58 L133.1,733.77 L133.6,730.06 L134.1,726.49 L134.6,723.05 L135.1,719.78 L135.6,716.68 L136.1,713.78 L136.6,711.07 L137.1,708.59 L137.6,706.34 L138.1,704.33 L138.6,702.58 L139.1,701.09 L139.6,699.87 L140.1,698.93 L140.6,698.27 L141.1,697.89 L141.6,697.80 L142.1,697.96 L142.6,698.34 L143.1,698.94 L143.6,699.76 L144.1,700.80 L144.6,702.04 L145.1,703.50 L145.6,705.15 L146.1,707.00 L146.6,709.03 L147.1,711.24 L147.6,713.62 L148.1,716.16 L148.6,718.85 L149.1,721.68 L149.6,724.63 L150.1,727.71 L150.6,730.89 L151.1,734.17 L151.6,737.54 L152.1,740.97 L152.6,744.47 L153.1,748.02 L153.6,751.60 L154.1,755.22 L154.6,758.85 L155.1,762.49 L155.6,766.12 L156.1,769.74 L156.6,773.33 L157.1,776.90 L157.6,780.42 L158.1,783.89 L158.6,787.31 L159.1,790.67 L159.6,793.96 L160.1,797.18 L160.6,800.31 L161.1,803.36 L161.6,806.33 L162.1,809.20 L162.6,811.98 L163.1,814.67 L163.6,817.26 L164.1,819.74 L164.6,822.13 L165.1,824.42 L165.6,826.61 L166.1,828.70 L166.6,830.69 L167.1,832.59 L167.6,834.39 L168.1,836.10 L168.6,837.71 L169.1,839.23 L169.6,840.67 L170.1,842.02 L170.6,843.30 L171.1,844.49 L171.6,845.61 L172.1,846.65 L172.6,847.63 L173.1,848.54 L173.6,849.38 L174.1,850.17 L174.6,850.90 L175.1,851.57 L175.6,852.19 L176.1,852.77 L176.6,853.30 L177.1,853.79 L177.6,854.23 L178.1,854.64 L178.6,855.02 L179.1,855.36 L179.6,855.68 L180.1,855.96 L180.6,856.22 L181.1,856.46 L181.6,856.67 L182.1,856.87 L182.6,857.04 L183.1,857.20 L183.6,857.34 L184.1,857.47 L184.6,857.59 L185.1,857.69 L185.6,857.79 L186.1,857.87 L186.6,857.94 L187.1,858.01 L187.6,858.07 L188.1,858.12 L188.6,858.17 L189.1,858.21 L189.6,858.24 L190.1,858.28 L190.6,858.30 L191.1,858.33 L191.6,858.35 L192.1,858.37 L192.6,858.39 L193.1,858.40 L193.6,858.42 L194.1,858.43 L194.6,858.44 L195.1,858.45 L195.6,858.45 L196.1,858.46 L196.6,858.47 L197.1,858.47 L197.6,858.47 L198.1,858.48 L198.6,858.48 L199.1,858.48 L199.6,858.49 L200.1,858.49 L200.6,858.49 L201.1,858.49 L201.6,858.49 L202.1,858.49 L202.6,858.50 L203.1,858.50 L203.6,858.50 L204.1,858.50 L204.6,858.50 L205.1,858.50 L205.6,858.50 L206.1,858.50 L206.6,858.50 L207.1,858.50 L207.6,858.50 L208.1,858.50 L208.6,858.50 L209.1,858.50 L209.6,858.50 L210.1,858.50 L210.6,858.50 L211.1,858.50 L211.6,858.50 L212.1,858.50 L212.6,858.50 L213.1,858.50 L213.6,858.50 L214.1,858.50 L214.6,858.50 L215.1,858.50 L215.6,858.50 L216.1,858.50 L216.6,858.50 L217.1,858.50 L217.6,858.50 L218.1,858.50 L218.6,858.50 L219.1,858.50 L219.6,858.50 L220.1,858.50 L220.6,858.49 L221.1,858.49 L221.6,858.49 L222.1,858.49 L222.6,858.49 L223.1,858.48 L223.6,858.48 L224.1,858.47 L224.6,858.47 L225.1,858.46 L225.6,858.45 L226.1,858.44 L226.6,858.43 L227.1,858.41 L227.6,858.40 L228.1,858.38 L228.6,858.35 L229.1,858.33 L229.6,858.29 L230.1,858.26 L230.6,858.22 L231.1,858.17 L231.6,858.11 L232.1,858.05 L232.6,857.98 L233.1,857.90 L233.6,857.81 L234.1,857.71 L234.6,857.60 L235.1,857.47 L235.6,857.33 L236.1,857.18 L236.6,857.02 L237.1,856.84 L237.6,856.64 L238.1,856.43 L238.6,856.20 L239.1,855.95 L239.6,855.69 L240.1,855.41 L240.6,855.12 L241.1,854.81 L241.6,854.48 L242.1,854.15 L242.6,853.80 L243.1,853.44 L243.6,853.07 L244.1,852.69 L244.6,852.32 L245.1,851.93 L245.6,851.55 L246.1,851.18 L246.6,850.80 L247.1,850.44 L247.6,850.09 L248.1,849.76 L248.6,849.44 L249.1,849.14 L249.6,848.87 L250.1,848.62 L250.6,848.40 L251.1,848.22 L251.6,848.06 L252.1,847.94 L252.6,847.86 L253.1,847.81 L253.6,847.80 L254.1,847.82 L254.6,847.89 L255.1,847.98 L255.6,848.12 L256.1,848.28 L256.6,848.48 L257.1,848.71 L257.6,848.96 L258.1,849.24 L258.6,849.54 L259.1,849.86 L259.6,850.20 L260.1,850.55 L260.6,850.91 L261.1,851.27 L261.6,851.64 L262.1,852.01 L262.6,852.37 L263.1,852.73 L263.6,853.07 L264.1,853.41 L264.6,853.73 L265.1,854.04 L265.6,854.32 L266.1,854.58 L266.6,854.82 L267.1,855.04 L267.6,855.23 L268.1,855.39 L268.6,855.51 L269.1,855.61 L269.6,855.67 L270.1,855.70 L270.6,855.70 L271.1,855.66 L271.6,855.58 L272.1,855.46 L272.6,855.30 L273.1,855.11 L273.6,854.87 L274.1,854.59 L274.6,854.27 L275.1,853.91 L275.6,853.51 L276.1,853.07 L276.6,852.59 L277.1,852.07 L277.6,851.51 L278.1,850.92 L278.6,850.29 L279.1,849.64 L279.6,848.96 L280.1,848.25 L280.6,847.52 L281.1,846.78 L281.6,846.03 L282.1,845.27 L282.6,844.51 L283.1,843.76 L283.6,843.01 L284.1,842.29 L284.6,841.59 L285.1,840.92 L285.6,840.28 L286.1,839.69 L286.6,839.14 L287.1,838.65 L287.6,838.21 L288.1,837.84 L288.6,837.53 L289.1,837.29 L289.6,837.12 L290.1,837.02 L290.6,837.00 L291.1,837.03 L291.6,837.10 L292.1,837.21 L292.6,837.36 L293.1,837.54 L293.6,837.77 L294.1,838.03 L294.6,838.32 L295.1,838.65 L295.6,839.01 L296.1,839.40 L296.6,839.82 L297.1,840.26 L297.6,840.73 L298.1,841.22 L298.6,841.72 L299.1,842.24 L299.6,842.78 L300.1,843.33 L300.6,843.88 L301.1,844.44 L301.6,845.01 L302.1,845.57 L302.6,846.14 L303.1,846.70 L303.6,847.26 L304.1,847.82 L304.6,848.36 L305.1,848.90 L305.6,849.42 L306.1,849.93 L306.6,850.43 L307.1,850.91 L307.6,851.38 L308.1,851.83 L308.6,852.27 L309.1,852.69 L309.6,853.09 L310.1,853.47 L310.6,853.83 L311.1,854.18 L311.6,854.51 L312.1,854.82 L312.6,855.11 L313.1,855.38 L313.6,855.64 L314.1,855.88 L314.6,856.11 L315.1,856.32 L315.6,856.51 L316.1,856.70 L316.6,856.86 L317.1,857.02 L317.6,857.16 L318.1,857.29 L318.6,857.41 L319.1,857.52 L319.6,857.62 L320.1,857.72 L320.6,857.80 L321.1,857.88 L321.6,857.94 L322.1,858.01 L322.6,858.06 L323.1,858.11 L323.6,858.16 L324.1,858.20 L324.6,858.24 L325.1,858.27 L325.6,858.30 L326.1,858.32 L326.6,858.34 L327.1,858.36" fill="none" stroke="#000" stroke-width="1.8" stroke-dasharray="4,3"/>
<line x1="189.50" y1="687.70" x2="151.00" y2="702.20" stroke="#000" stroke-width="1.8" />
<polygon points="144.3,704.9 153.5,698.3 155.5,704.5" fill="#000"/>
<text x="140.30" y="689.80" font-size="14" text-anchor="start" font-weight="normal" fill="#000" >a'</text>
<text x="196.30" y="688.00" font-size="14" text-anchor="start" font-weight="normal" fill="#000" >b'</text>
<line x1="54.10" y1="768.00" x2="54.10" y2="786.00" stroke="#000" stroke-width="2" />
<polygon points="54.1,759.1 50.2,769 58,769" fill="#000"/>
<polygon points="54.1,795.2 50.2,785.3 58,785.3" fill="#000"/>
<text x="59.00" y="782.00" font-size="14" text-anchor="start" font-weight="normal" fill="#000" >20 mAU</text>
<g stroke="#111" stroke-width="0.8">
<circle cx="82.0" cy="19.8" r="2.45" fill="#3f3f3f"/>
<circle cx="83.2" cy="21.3" r="2.45" fill="#3f3f3f"/>
<circle cx="84.5" cy="25.8" r="2.45" fill="#3f3f3f"/>
<circle cx="85.8" cy="25.6" r="2.45" fill="#3f3f3f"/>
<circle cx="87.0" cy="30.2" r="2.45" fill="#3f3f3f"/>
<circle cx="88.2" cy="31.9" r="2.45" fill="#3f3f3f"/>
<circle cx="89.5" cy="33.1" r="2.45" fill="#3f3f3f"/>
<circle cx="90.8" cy="37.5" r="2.45" fill="#3f3f3f"/>
<circle cx="92.0" cy="37.5" r="2.45" fill="#3f3f3f"/>
<circle cx="93.2" cy="41.2" r="2.45" fill="#3f3f3f"/>
<circle cx="94.5" cy="41.6" r="2.45" fill="#3f3f3f"/>
<circle cx="95.8" cy="44.0" r="2.45" fill="#3f3f3f"/>
<circle cx="97.0" cy="47.8" r="2.45" fill="#3f3f3f"/>
<circle cx="98.2" cy="51.9" r="2.45" fill="#3f3f3f"/>
<circle cx="99.5" cy="50.8" r="2.45" fill="#3f3f3f"/>
<circle cx="100.8" cy="53.4" r="2.45" fill="#3f3f3f"/>
<circle cx="102.0" cy="56.8" r="2.45" fill="#3f3f3f"/>
<circle cx="103.2" cy="59.8" r="2.45" fill="#3f3f3f"/>
<circle cx="104.5" cy="59.1" r="2.45" fill="#3f3f3f"/>
<circle cx="105.8" cy="59.2" r="2.45" fill="#3f3f3f"/>
<circle cx="107.0" cy="62.6" r="2.45" fill="#3f3f3f"/>
<circle cx="108.2" cy="58.9" r="2.45" fill="#3f3f3f"/>
<circle cx="109.5" cy="62.8" r="2.45" fill="#3f3f3f"/>
<circle cx="110.8" cy="60.7" r="2.45" fill="#3f3f3f"/>
<circle cx="112.0" cy="60.4" r="2.45" fill="#3f3f3f"/>
<circle cx="113.2" cy="60.6" r="2.45" fill="#3f3f3f"/>
<circle cx="114.5" cy="61.8" r="2.45" fill="#3f3f3f"/>
<circle cx="115.8" cy="64.3" r="2.45" fill="#3f3f3f"/>
<circle cx="117.0" cy="61.8" r="2.45" fill="#3f3f3f"/>
<circle cx="118.2" cy="63.9" r="2.45" fill="#3f3f3f"/>
<circle cx="119.5" cy="64.3" r="2.45" fill="#3f3f3f"/>
<circle cx="120.8" cy="63.3" r="2.45" fill="#3f3f3f"/>
<circle cx="122.0" cy="64.3" r="2.45" fill="#3f3f3f"/>
<circle cx="123.2" cy="62.3" r="2.45" fill="#3f3f3f"/>
<circle cx="124.5" cy="62.5" r="2.45" fill="#3f3f3f"/>
<circle cx="125.8" cy="63.3" r="2.45" fill="#3f3f3f"/>
<circle cx="127.0" cy="65.5" r="2.45" fill="#3f3f3f"/>
<circle cx="128.2" cy="64.5" r="2.45" fill="#3f3f3f"/>
<circle cx="129.5" cy="64.1" r="2.45" fill="#3f3f3f"/>
<circle cx="130.8" cy="65.5" r="2.45" fill="#3f3f3f"/>
<circle cx="132.0" cy="65.0" r="2.45" fill="#3f3f3f"/>
<circle cx="133.2" cy="64.4" r="2.45" fill="#3f3f3f"/>
<circle cx="134.5" cy="66.7" r="2.45" fill="#3f3f3f"/>
<circle cx="135.8" cy="66.4" r="2.45" fill="#3f3f3f"/>
<circle cx="137.0" cy="64.5" r="2.45" fill="#3f3f3f"/>
<circle cx="138.2" cy="66.0" r="2.45" fill="#3f3f3f"/>
<circle cx="139.5" cy="65.9" r="2.45" fill="#3f3f3f"/>
<circle cx="140.8" cy="67.5" r="2.45" fill="#3f3f3f"/>
<circle cx="142.0" cy="67.0" r="2.45" fill="#3f3f3f"/>
<circle cx="143.2" cy="65.1" r="2.45" fill="#3f3f3f"/>
<circle cx="144.5" cy="68.2" r="2.45" fill="#3f3f3f"/>
<circle cx="145.8" cy="64.5" r="2.45" fill="#3f3f3f"/>
<circle cx="147.0" cy="65.9" r="2.45" fill="#3f3f3f"/>
<circle cx="148.2" cy="67.5" r="2.45" fill="#3f3f3f"/>
<circle cx="149.5" cy="64.9" r="2.45" fill="#3f3f3f"/>
<circle cx="150.8" cy="66.5" r="2.45" fill="#3f3f3f"/>
<circle cx="152.0" cy="64.6" r="2.45" fill="#3f3f3f"/>
<circle cx="153.2" cy="67.5" r="2.45" fill="#3f3f3f"/>
<circle cx="154.5" cy="68.0" r="2.45" fill="#3f3f3f"/>
<circle cx="155.8" cy="67.2" r="2.45" fill="#3f3f3f"/>
<circle cx="157.0" cy="68.6" r="2.45" fill="#3f3f3f"/>
<circle cx="158.2" cy="66.2" r="2.45" fill="#3f3f3f"/>
<circle cx="159.5" cy="68.0" r="2.45" fill="#3f3f3f"/>
<circle cx="160.8" cy="67.6" r="2.45" fill="#3f3f3f"/>
<circle cx="162.0" cy="67.7" r="2.45" fill="#3f3f3f"/>
<circle cx="163.2" cy="67.2" r="2.45" fill="#3f3f3f"/>
<circle cx="164.5" cy="69.0" r="2.45" fill="#3f3f3f"/>
<circle cx="165.8" cy="69.5" r="2.45" fill="#3f3f3f"/>
<circle cx="167.0" cy="67.5" r="2.45" fill="#3f3f3f"/>
<circle cx="168.2" cy="68.3" r="2.45" fill="#3f3f3f"/>
<circle cx="169.5" cy="65.7" r="2.45" fill="#3f3f3f"/>
<circle cx="170.8" cy="68.6" r="2.45" fill="#3f3f3f"/>
<circle cx="172.0" cy="68.4" r="2.45" fill="#3f3f3f"/>
<circle cx="173.2" cy="69.9" r="2.45" fill="#3f3f3f"/>
<circle cx="174.5" cy="69.2" r="2.45" fill="#3f3f3f"/>
<circle cx="175.8" cy="66.9" r="2.45" fill="#3f3f3f"/>
<circle cx="177.0" cy="67.4" r="2.45" fill="#3f3f3f"/>
<circle cx="178.2" cy="68.7" r="2.45" fill="#3f3f3f"/>
<circle cx="179.5" cy="65.9" r="2.45" fill="#3f3f3f"/>
<circle cx="180.8" cy="67.9" r="2.45" fill="#3f3f3f"/>
<circle cx="182.0" cy="66.6" r="2.45" fill="#3f3f3f"/>
<circle cx="183.2" cy="66.4" r="2.45" fill="#3f3f3f"/>
<circle cx="184.5" cy="66.2" r="2.45" fill="#3f3f3f"/>
<circle cx="185.8" cy="69.4" r="2.45" fill="#3f3f3f"/>
<circle cx="187.0" cy="66.6" r="2.45" fill="#3f3f3f"/>
<circle cx="188.2" cy="67.2" r="2.45" fill="#3f3f3f"/>
<circle cx="189.5" cy="67.8" r="2.45" fill="#3f3f3f"/>
<circle cx="190.8" cy="70.0" r="2.45" fill="#3f3f3f"/>
<circle cx="192.0" cy="66.6" r="2.45" fill="#3f3f3f"/>
<circle cx="193.2" cy="68.2" r="2.45" fill="#3f3f3f"/>
<circle cx="194.5" cy="68.7" r="2.45" fill="#3f3f3f"/>
<circle cx="195.8" cy="70.2" r="2.45" fill="#3f3f3f"/>
<circle cx="197.0" cy="70.0" r="2.45" fill="#3f3f3f"/>
<circle cx="198.2" cy="70.2" r="2.45" fill="#3f3f3f"/>
<circle cx="199.5" cy="67.7" r="2.45" fill="#3f3f3f"/>
<circle cx="200.8" cy="68.3" r="2.45" fill="#3f3f3f"/>
<circle cx="202.0" cy="68.1" r="2.45" fill="#3f3f3f"/>
<circle cx="203.2" cy="70.3" r="2.45" fill="#3f3f3f"/>
<circle cx="204.5" cy="70.0" r="2.45" fill="#3f3f3f"/>
<circle cx="205.8" cy="65.7" r="2.45" fill="#3f3f3f"/>
<circle cx="207.0" cy="65.1" r="2.45" fill="#3f3f3f"/>
<circle cx="208.2" cy="65.1" r="2.45" fill="#3f3f3f"/>
<circle cx="209.5" cy="64.9" r="2.45" fill="#3f3f3f"/>
<circle cx="210.8" cy="66.4" r="2.45" fill="#3f3f3f"/>
<circle cx="212.0" cy="67.7" r="2.45" fill="#3f3f3f"/>
<circle cx="213.2" cy="67.3" r="2.45" fill="#3f3f3f"/>
<circle cx="214.5" cy="67.8" r="2.45" fill="#3f3f3f"/>
<circle cx="215.8" cy="71.3" r="2.45" fill="#3f3f3f"/>
<circle cx="217.0" cy="72.7" r="2.45" fill="#3f3f3f"/>
<circle cx="218.2" cy="75.1" r="2.45" fill="#3f3f3f"/>
<circle cx="82.7" cy="33.5" r="2.45" fill="#ff0000"/>
<circle cx="84.6" cy="38.7" r="2.45" fill="#ff0000"/>
<circle cx="86.5" cy="46.9" r="2.45" fill="#ff0000"/>
<circle cx="88.4" cy="52.1" r="2.45" fill="#ff0000"/>
<circle cx="90.3" cy="59.4" r="2.45" fill="#ff0000"/>
<circle cx="92.2" cy="63.5" r="2.45" fill="#ff0000"/>
<circle cx="94.1" cy="72.4" r="2.45" fill="#ff0000"/>
<circle cx="96.0" cy="77.6" r="2.45" fill="#ff0000"/>
<circle cx="97.9" cy="83.1" r="2.45" fill="#ff0000"/>
<circle cx="99.8" cy="87.7" r="2.45" fill="#ff0000"/>
<circle cx="101.7" cy="89.5" r="2.45" fill="#ff0000"/>
<circle cx="103.6" cy="92.7" r="2.45" fill="#ff0000"/>
<circle cx="105.5" cy="96.8" r="2.45" fill="#ff0000"/>
<circle cx="107.4" cy="101.9" r="2.45" fill="#ff0000"/>
<circle cx="109.3" cy="104.0" r="2.45" fill="#ff0000"/>
<circle cx="111.2" cy="108.1" r="2.45" fill="#ff0000"/>
<circle cx="113.1" cy="111.4" r="2.45" fill="#ff0000"/>
<circle cx="115.0" cy="114.0" r="2.45" fill="#ff0000"/>
<circle cx="116.9" cy="116.8" r="2.45" fill="#ff0000"/>
<circle cx="118.8" cy="118.5" r="2.45" fill="#ff0000"/>
<circle cx="120.7" cy="120.2" r="2.45" fill="#ff0000"/>
<circle cx="122.6" cy="122.4" r="2.45" fill="#ff0000"/>
<circle cx="124.5" cy="123.4" r="2.45" fill="#ff0000"/>
<circle cx="126.4" cy="125.1" r="2.45" fill="#ff0000"/>
<circle cx="128.3" cy="125.4" r="2.45" fill="#ff0000"/>
<circle cx="130.2" cy="128.0" r="2.45" fill="#ff0000"/>
<circle cx="132.1" cy="128.0" r="2.45" fill="#ff0000"/>
<circle cx="134.0" cy="127.4" r="2.45" fill="#ff0000"/>
<circle cx="135.9" cy="128.2" r="2.45" fill="#ff0000"/>
<circle cx="137.8" cy="128.7" r="2.45" fill="#ff0000"/>
<circle cx="139.7" cy="129.0" r="2.45" fill="#ff0000"/>
<circle cx="141.6" cy="128.6" r="2.45" fill="#ff0000"/>
<circle cx="143.5" cy="130.4" r="2.45" fill="#ff0000"/>
<circle cx="145.4" cy="130.9" r="2.45" fill="#ff0000"/>
<circle cx="147.3" cy="129.9" r="2.45" fill="#ff0000"/>
<circle cx="149.2" cy="130.2" r="2.45" fill="#ff0000"/>
<circle cx="151.1" cy="129.5" r="2.45" fill="#ff0000"/>
<circle cx="153.0" cy="129.8" r="2.45" fill="#ff0000"/>
<circle cx="154.9" cy="130.6" r="2.45" fill="#ff0000"/>
<circle cx="156.8" cy="130.6" r="2.45" fill="#ff0000"/>
<circle cx="158.7" cy="132.1" r="2.45" fill="#ff0000"/>
<circle cx="160.6" cy="130.8" r="2.45" fill="#ff0000"/>
<circle cx="162.5" cy="130.7" r="2.45" fill="#ff0000"/>
<circle cx="164.4" cy="132.9" r="2.45" fill="#ff0000"/>
<circle cx="166.3" cy="132.2" r="2.45" fill="#ff0000"/>
<circle cx="168.2" cy="131.5" r="2.45" fill="#ff0000"/>
<circle cx="170.1" cy="132.6" r="2.45" fill="#ff0000"/>
<circle cx="172.0" cy="131.6" r="2.45" fill="#ff0000"/>
<circle cx="173.9" cy="132.9" r="2.45" fill="#ff0000"/>
<circle cx="175.8" cy="134.1" r="2.45" fill="#ff0000"/>
<circle cx="177.7" cy="134.0" r="2.45" fill="#ff0000"/>
<circle cx="179.6" cy="133.7" r="2.45" fill="#ff0000"/>
<circle cx="181.5" cy="132.8" r="2.45" fill="#ff0000"/>
<circle cx="183.4" cy="133.1" r="2.45" fill="#ff0000"/>
<circle cx="185.3" cy="132.7" r="2.45" fill="#ff0000"/>
<circle cx="187.2" cy="134.1" r="2.45" fill="#ff0000"/>
<circle cx="189.1" cy="133.7" r="2.45" fill="#ff0000"/>
<circle cx="191.0" cy="134.3" r="2.45" fill="#ff0000"/>
<circle cx="192.9" cy="133.4" r="2.45" fill="#ff0000"/>
<circle cx="194.8" cy="133.2" r="2.45" fill="#ff0000"/>
<circle cx="196.7" cy="134.6" r="2.45" fill="#ff0000"/>
<circle cx="198.6" cy="135.0" r="2.45" fill="#ff0000"/>
<circle cx="200.5" cy="134.8" r="2.45" fill="#ff0000"/>
<circle cx="202.4" cy="134.7" r="2.45" fill="#ff0000"/>
<circle cx="204.3" cy="134.7" r="2.45" fill="#ff0000"/>
<circle cx="206.2" cy="134.6" r="2.45" fill="#ff0000"/>
<circle cx="208.1" cy="133.5" r="2.45" fill="#ff0000"/>
<circle cx="210.0" cy="134.1" r="2.45" fill="#ff0000"/>
<circle cx="211.9" cy="133.8" r="2.45" fill="#ff0000"/>
<circle cx="213.8" cy="133.1" r="2.45" fill="#ff0000"/>
<circle cx="215.7" cy="133.1" r="2.45" fill="#ff0000"/>
<circle cx="217.6" cy="133.6" r="2.45" fill="#ff0000"/>
<circle cx="219.5" cy="133.6" r="2.45" fill="#ff0000"/>
<circle cx="221.4" cy="134.6" r="2.45" fill="#ff0000"/>
<circle cx="223.3" cy="135.2" r="2.45" fill="#ff0000"/>
<circle cx="225.2" cy="134.1" r="2.45" fill="#ff0000"/>
<circle cx="227.1" cy="135.1" r="2.45" fill="#ff0000"/>
<circle cx="229.0" cy="135.3" r="2.45" fill="#ff0000"/>
<circle cx="230.9" cy="135.2" r="2.45" fill="#ff0000"/>
<circle cx="232.8" cy="133.9" r="2.45" fill="#ff0000"/>
<circle cx="234.7" cy="133.6" r="2.45" fill="#ff0000"/>
<circle cx="236.6" cy="133.7" r="2.45" fill="#ff0000"/>
<circle cx="238.5" cy="133.6" r="2.45" fill="#ff0000"/>
<circle cx="240.4" cy="133.7" r="2.45" fill="#ff0000"/>
<circle cx="242.3" cy="134.6" r="2.45" fill="#ff0000"/>
<circle cx="244.2" cy="135.3" r="2.45" fill="#ff0000"/>
<circle cx="246.1" cy="135.1" r="2.45" fill="#ff0000"/>
<circle cx="248.0" cy="134.4" r="2.45" fill="#ff0000"/>
<circle cx="249.9" cy="134.8" r="2.45" fill="#ff0000"/>
<circle cx="251.8" cy="135.1" r="2.45" fill="#ff0000"/>
<circle cx="253.7" cy="133.6" r="2.45" fill="#ff0000"/>
<circle cx="82.0" cy="45.1" r="2.45" fill="#88ff00"/>
<circle cx="83.9" cy="47.2" r="2.45" fill="#88ff00"/>
<circle cx="85.8" cy="50.8" r="2.45" fill="#88ff00"/>
<circle cx="87.7" cy="55.5" r="2.45" fill="#88ff00"/>
<circle cx="89.6" cy="60.3" r="2.45" fill="#88ff00"/>
<circle cx="91.5" cy="65.3" r="2.45" fill="#88ff00"/>
<circle cx="93.4" cy="72.9" r="2.45" fill="#88ff00"/>
<circle cx="95.3" cy="77.5" r="2.45" fill="#88ff00"/>
<circle cx="97.2" cy="83.7" r="2.45" fill="#88ff00"/>
<circle cx="99.1" cy="88.0" r="2.45" fill="#88ff00"/>
<circle cx="101.0" cy="93.0" r="2.45" fill="#88ff00"/>
<circle cx="102.9" cy="99.3" r="2.45" fill="#88ff00"/>
<circle cx="104.8" cy="105.8" r="2.45" fill="#88ff00"/>
<circle cx="106.7" cy="111.5" r="2.45" fill="#88ff00"/>
<circle cx="108.6" cy="115.5" r="2.45" fill="#88ff00"/>
<circle cx="110.5" cy="120.4" r="2.45" fill="#88ff00"/>
<circle cx="112.4" cy="125.2" r="2.45" fill="#88ff00"/>
<circle cx="114.3" cy="131.6" r="2.45" fill="#88ff00"/>
<circle cx="116.2" cy="135.2" r="2.45" fill="#88ff00"/>
<circle cx="118.1" cy="137.1" r="2.45" fill="#88ff00"/>
<circle cx="120.0" cy="141.9" r="2.45" fill="#88ff00"/>
<circle cx="121.9" cy="145.6" r="2.45" fill="#88ff00"/>
<circle cx="123.8" cy="148.2" r="2.45" fill="#88ff00"/>
<circle cx="125.7" cy="150.6" r="2.45" fill="#88ff00"/>
<circle cx="127.6" cy="154.0" r="2.45" fill="#88ff00"/>
<circle cx="129.5" cy="156.0" r="2.45" fill="#88ff00"/>
<circle cx="131.4" cy="157.8" r="2.45" fill="#88ff00"/>
<circle cx="133.3" cy="161.8" r="2.45" fill="#88ff00"/>
<circle cx="135.2" cy="162.8" r="2.45" fill="#88ff00"/>
<circle cx="137.1" cy="163.5" r="2.45" fill="#88ff00"/>
<circle cx="139.0" cy="165.3" r="2.45" fill="#88ff00"/>
<circle cx="140.9" cy="165.2" r="2.45" fill="#88ff00"/>
<circle cx="142.8" cy="167.1" r="2.45" fill="#88ff00"/>
<circle cx="144.7" cy="167.8" r="2.45" fill="#88ff00"/>
<circle cx="146.6" cy="167.3" r="2.45" fill="#88ff00"/>
<circle cx="148.5" cy="168.2" r="2.45" fill="#88ff00"/>
<circle cx="150.4" cy="169.0" r="2.45" fill="#88ff00"/>
<circle cx="152.3" cy="169.2" r="2.45" fill="#88ff00"/>
<circle cx="154.2" cy="170.4" r="2.45" fill="#88ff00"/>
<circle cx="156.1" cy="170.0" r="2.45" fill="#88ff00"/>
<circle cx="158.0" cy="170.8" r="2.45" fill="#88ff00"/>
<circle cx="159.9" cy="170.5" r="2.45" fill="#88ff00"/>
<circle cx="161.8" cy="172.6" r="2.45" fill="#88ff00"/>
<circle cx="163.7" cy="171.7" r="2.45" fill="#88ff00"/>
<circle cx="165.6" cy="172.2" r="2.45" fill="#88ff00"/>
<circle cx="167.5" cy="172.7" r="2.45" fill="#88ff00"/>
<circle cx="169.4" cy="173.7" r="2.45" fill="#88ff00"/>
<circle cx="171.3" cy="172.9" r="2.45" fill="#88ff00"/>
<circle cx="173.2" cy="174.3" r="2.45" fill="#88ff00"/>
<circle cx="175.1" cy="173.6" r="2.45" fill="#88ff00"/>
<circle cx="177.0" cy="174.0" r="2.45" fill="#88ff00"/>
<circle cx="178.9" cy="174.2" r="2.45" fill="#88ff00"/>
<circle cx="180.8" cy="173.4" r="2.45" fill="#88ff00"/>
<circle cx="182.7" cy="174.6" r="2.45" fill="#88ff00"/>
<circle cx="184.6" cy="174.2" r="2.45" fill="#88ff00"/>
<circle cx="186.5" cy="174.1" r="2.45" fill="#88ff00"/>
<circle cx="188.4" cy="176.0" r="2.45" fill="#88ff00"/>
<circle cx="190.3" cy="174.8" r="2.45" fill="#88ff00"/>
<circle cx="192.2" cy="175.5" r="2.45" fill="#88ff00"/>
<circle cx="194.1" cy="176.2" r="2.45" fill="#88ff00"/>
<circle cx="196.0" cy="175.9" r="2.45" fill="#88ff00"/>
<circle cx="197.9" cy="175.5" r="2.45" fill="#88ff00"/>
<circle cx="199.8" cy="176.0" r="2.45" fill="#88ff00"/>
<circle cx="201.7" cy="176.1" r="2.45" fill="#88ff00"/>
<circle cx="203.6" cy="176.6" r="2.45" fill="#88ff00"/>
<circle cx="205.5" cy="175.1" r="2.45" fill="#88ff00"/>
<circle cx="207.4" cy="176.1" r="2.45" fill="#88ff00"/>
<circle cx="209.3" cy="175.4" r="2.45" fill="#88ff00"/>
<circle cx="211.2" cy="175.5" r="2.45" fill="#88ff00"/>
<circle cx="213.1" cy="176.7" r="2.45" fill="#88ff00"/>
<circle cx="215.0" cy="176.3" r="2.45" fill="#88ff00"/>
<circle cx="216.9" cy="176.6" r="2.45" fill="#88ff00"/>
<circle cx="218.8" cy="177.3" r="2.45" fill="#88ff00"/>
<circle cx="220.7" cy="177.8" r="2.45" fill="#88ff00"/>
<circle cx="222.6" cy="177.0" r="2.45" fill="#88ff00"/>
<circle cx="224.5" cy="177.5" r="2.45" fill="#88ff00"/>
<circle cx="226.4" cy="177.4" r="2.45" fill="#88ff00"/>
<circle cx="228.3" cy="177.5" r="2.45" fill="#88ff00"/>
<circle cx="230.2" cy="177.9" r="2.45" fill="#88ff00"/>
<circle cx="232.1" cy="177.5" r="2.45" fill="#88ff00"/>
<circle cx="234.0" cy="177.7" r="2.45" fill="#88ff00"/>
<circle cx="235.9" cy="177.7" r="2.45" fill="#88ff00"/>
<circle cx="237.8" cy="178.9" r="2.45" fill="#88ff00"/>
<circle cx="239.7" cy="178.7" r="2.45" fill="#88ff00"/>
<circle cx="241.6" cy="179.4" r="2.45" fill="#88ff00"/>
<circle cx="243.5" cy="179.8" r="2.45" fill="#88ff00"/>
<circle cx="245.4" cy="178.6" r="2.45" fill="#88ff00"/>
<circle cx="247.3" cy="179.6" r="2.45" fill="#88ff00"/>
<circle cx="249.2" cy="180.7" r="2.45" fill="#88ff00"/>
<circle cx="251.1" cy="180.1" r="2.45" fill="#88ff00"/>
<circle cx="253.0" cy="178.1" r="2.45" fill="#88ff00"/>
<circle cx="84.7" cy="57.5" r="2.45" fill="#119911"/>
<circle cx="87.6" cy="69.8" r="2.45" fill="#119911"/>
<circle cx="90.5" cy="85.7" r="2.45" fill="#119911"/>
<circle cx="93.4" cy="93.9" r="2.45" fill="#119911"/>
<circle cx="96.3" cy="105.8" r="2.45" fill="#119911"/>
<circle cx="99.2" cy="114.7" r="2.45" fill="#119911"/>
<circle cx="102.1" cy="123.9" r="2.45" fill="#119911"/>
<circle cx="105.0" cy="134.2" r="2.45" fill="#119911"/>
<circle cx="107.9" cy="139.8" r="2.45" fill="#119911"/>
<circle cx="110.8" cy="153.5" r="2.45" fill="#119911"/>
<circle cx="113.7" cy="158.6" r="2.45" fill="#119911"/>
<circle cx="116.6" cy="162.5" r="2.45" fill="#119911"/>
<circle cx="119.5" cy="172.7" r="2.45" fill="#119911"/>
<circle cx="122.4" cy="178.0" r="2.45" fill="#119911"/>
<circle cx="125.3" cy="180.8" r="2.45" fill="#119911"/>
<circle cx="128.2" cy="185.7" r="2.45" fill="#119911"/>
<circle cx="131.1" cy="190.9" r="2.45" fill="#119911"/>
<circle cx="134.0" cy="193.8" r="2.45" fill="#119911"/>
<circle cx="136.9" cy="196.5" r="2.45" fill="#119911"/>
<circle cx="139.8" cy="198.6" r="2.45" fill="#119911"/>
<circle cx="142.7" cy="200.1" r="2.45" fill="#119911"/>
<circle cx="145.6" cy="203.0" r="2.45" fill="#119911"/>
<circle cx="148.5" cy="206.7" r="2.45" fill="#119911"/>
<circle cx="151.4" cy="209.9" r="2.45" fill="#119911"/>
<circle cx="154.3" cy="210.2" r="2.45" fill="#119911"/>
<circle cx="157.2" cy="210.8" r="2.45" fill="#119911"/>
<circle cx="160.1" cy="213.5" r="2.45" fill="#119911"/>
<circle cx="163.0" cy="214.9" r="2.45" fill="#119911"/>
<circle cx="165.9" cy="215.3" r="2.45" fill="#119911"/>
<circle cx="168.8" cy="214.8" r="2.45" fill="#119911"/>
<circle cx="171.7" cy="215.6" r="2.45" fill="#119911"/>
<circle cx="174.6" cy="217.8" r="2.45" fill="#119911"/>
<circle cx="177.5" cy="217.6" r="2.45" fill="#119911"/>
<circle cx="180.4" cy="215.7" r="2.45" fill="#119911"/>
<circle cx="183.3" cy="218.0" r="2.45" fill="#119911"/>
<circle cx="186.2" cy="222.0" r="2.45" fill="#119911"/>
<circle cx="189.1" cy="221.2" r="2.45" fill="#119911"/>
<circle cx="192.0" cy="221.1" r="2.45" fill="#119911"/>
<circle cx="194.9" cy="221.2" r="2.45" fill="#119911"/>
<circle cx="197.8" cy="222.6" r="2.45" fill="#119911"/>
<circle cx="200.7" cy="219.7" r="2.45" fill="#119911"/>
<circle cx="203.6" cy="221.6" r="2.45" fill="#119911"/>
<circle cx="206.5" cy="222.3" r="2.45" fill="#119911"/>
<circle cx="209.4" cy="223.4" r="2.45" fill="#119911"/>
<circle cx="212.3" cy="224.7" r="2.45" fill="#119911"/>
<circle cx="215.2" cy="221.9" r="2.45" fill="#119911"/>
<circle cx="218.1" cy="220.5" r="2.45" fill="#119911"/>
<circle cx="221.0" cy="220.1" r="2.45" fill="#119911"/>
<circle cx="223.9" cy="221.4" r="2.45" fill="#119911"/>
<circle cx="226.8" cy="223.8" r="2.45" fill="#119911"/>
<circle cx="229.7" cy="224.3" r="2.45" fill="#119911"/>
<circle cx="232.6" cy="224.0" r="2.45" fill="#119911"/>
<circle cx="235.5" cy="222.8" r="2.45" fill="#119911"/>
<circle cx="238.4" cy="222.7" r="2.45" fill="#119911"/>
<circle cx="241.3" cy="224.2" r="2.45" fill="#119911"/>
<circle cx="244.2" cy="224.6" r="2.45" fill="#119911"/>
<circle cx="247.1" cy="225.2" r="2.45" fill="#119911"/>
<circle cx="250.0" cy="227.5" r="2.45" fill="#119911"/>
<circle cx="83.6" cy="83.1" r="2.45" fill="#0000e8"/>
<circle cx="86.5" cy="97.1" r="2.45" fill="#0000e8"/>
<circle cx="89.4" cy="108.6" r="2.45" fill="#0000e8"/>
<circle cx="92.3" cy="122.4" r="2.45" fill="#0000e8"/>
<circle cx="95.2" cy="130.0" r="2.45" fill="#0000e8"/>
<circle cx="98.1" cy="143.7" r="2.45" fill="#0000e8"/>
<circle cx="101.0" cy="153.9" r="2.45" fill="#0000e8"/>
<circle cx="103.9" cy="163.8" r="2.45" fill="#0000e8"/>
<circle cx="106.8" cy="172.8" r="2.45" fill="#0000e8"/>
<circle cx="109.7" cy="180.8" r="2.45" fill="#0000e8"/>
<circle cx="112.6" cy="187.8" r="2.45" fill="#0000e8"/>
<circle cx="115.5" cy="197.3" r="2.45" fill="#0000e8"/>
<circle cx="118.4" cy="202.2" r="2.45" fill="#0000e8"/>
<circle cx="121.3" cy="208.5" r="2.45" fill="#0000e8"/>
<circle cx="124.2" cy="214.6" r="2.45" fill="#0000e8"/>
<circle cx="127.1" cy="220.0" r="2.45" fill="#0000e8"/>
<circle cx="130.0" cy="225.6" r="2.45" fill="#0000e8"/>
<circle cx="132.9" cy="228.6" r="2.45" fill="#0000e8"/>
<circle cx="135.8" cy="233.8" r="2.45" fill="#0000e8"/>
<circle cx="138.7" cy="238.5" r="2.45" fill="#0000e8"/>
<circle cx="141.6" cy="241.8" r="2.45" fill="#0000e8"/>
<circle cx="144.5" cy="243.3" r="2.45" fill="#0000e8"/>
<circle cx="147.4" cy="245.8" r="2.45" fill="#0000e8"/>
<circle cx="150.3" cy="246.9" r="2.45" fill="#0000e8"/>
<circle cx="153.2" cy="250.4" r="2.45" fill="#0000e8"/>
<circle cx="156.1" cy="252.7" r="2.45" fill="#0000e8"/>
<circle cx="159.0" cy="255.1" r="2.45" fill="#0000e8"/>
<circle cx="161.9" cy="255.6" r="2.45" fill="#0000e8"/>
<circle cx="164.8" cy="257.2" r="2.45" fill="#0000e8"/>
<circle cx="167.7" cy="257.9" r="2.45" fill="#0000e8"/>
<circle cx="170.6" cy="258.4" r="2.45" fill="#0000e8"/>
<circle cx="173.5" cy="259.5" r="2.45" fill="#0000e8"/>
<circle cx="176.4" cy="260.8" r="2.45" fill="#0000e8"/>
<circle cx="179.3" cy="259.4" r="2.45" fill="#0000e8"/>
<circle cx="182.2" cy="257.5" r="2.45" fill="#0000e8"/>
<circle cx="185.1" cy="257.9" r="2.45" fill="#0000e8"/>
<circle cx="188.0" cy="259.1" r="2.45" fill="#0000e8"/>
<circle cx="190.9" cy="262.0" r="2.45" fill="#0000e8"/>
<circle cx="193.8" cy="262.6" r="2.45" fill="#0000e8"/>
<circle cx="196.7" cy="262.3" r="2.45" fill="#0000e8"/>
<circle cx="199.6" cy="262.1" r="2.45" fill="#0000e8"/>
<circle cx="202.5" cy="262.1" r="2.45" fill="#0000e8"/>
<circle cx="205.4" cy="261.5" r="2.45" fill="#0000e8"/>
<circle cx="208.3" cy="262.3" r="2.45" fill="#0000e8"/>
<circle cx="211.2" cy="262.4" r="2.45" fill="#0000e8"/>
<circle cx="214.1" cy="262.5" r="2.45" fill="#0000e8"/>
<circle cx="217.0" cy="262.4" r="2.45" fill="#0000e8"/>
<circle cx="219.9" cy="262.6" r="2.45" fill="#0000e8"/>
<circle cx="222.8" cy="263.1" r="2.45" fill="#0000e8"/>
<circle cx="225.7" cy="265.1" r="2.45" fill="#0000e8"/>
<circle cx="228.6" cy="263.4" r="2.45" fill="#0000e8"/>
<circle cx="231.5" cy="262.6" r="2.45" fill="#0000e8"/>
<circle cx="234.4" cy="260.1" r="2.45" fill="#0000e8"/>
<circle cx="237.3" cy="258.8" r="2.45" fill="#0000e8"/>
<circle cx="240.2" cy="263.7" r="2.45" fill="#0000e8"/>
<circle cx="243.1" cy="262.2" r="2.45" fill="#0000e8"/>
<circle cx="246.0" cy="261.2" r="2.45" fill="#0000e8"/>
<circle cx="248.9" cy="261.0" r="2.45" fill="#0000e8"/>
<circle cx="251.8" cy="260.9" r="2.45" fill="#0000e8"/>
<circle cx="82.5" cy="70.1" r="2.45" fill="#20a0dc"/>
<circle cx="84.8" cy="78.4" r="2.45" fill="#20a0dc"/>
<circle cx="87.1" cy="86.1" r="2.45" fill="#20a0dc"/>
<circle cx="89.4" cy="93.2" r="2.45" fill="#20a0dc"/>
<circle cx="91.7" cy="102.3" r="2.45" fill="#20a0dc"/>
<circle cx="94.0" cy="111.4" r="2.45" fill="#20a0dc"/>
<circle cx="96.3" cy="123.1" r="2.45" fill="#20a0dc"/>
<circle cx="98.6" cy="132.6" r="2.45" fill="#20a0dc"/>
<circle cx="100.9" cy="140.0" r="2.45" fill="#20a0dc"/>
<circle cx="103.2" cy="148.5" r="2.45" fill="#20a0dc"/>
<circle cx="105.5" cy="156.6" r="2.45" fill="#20a0dc"/>
<circle cx="107.8" cy="164.1" r="2.45" fill="#20a0dc"/>
<circle cx="110.1" cy="170.2" r="2.45" fill="#20a0dc"/>
<circle cx="112.4" cy="175.1" r="2.45" fill="#20a0dc"/>
<circle cx="114.7" cy="181.2" r="2.45" fill="#20a0dc"/>
<circle cx="117.0" cy="187.6" r="2.45" fill="#20a0dc"/>
<circle cx="119.3" cy="193.9" r="2.45" fill="#20a0dc"/>
<circle cx="121.6" cy="199.8" r="2.45" fill="#20a0dc"/>
<circle cx="123.9" cy="204.7" r="2.45" fill="#20a0dc"/>
<circle cx="126.2" cy="207.1" r="2.45" fill="#20a0dc"/>
<circle cx="128.5" cy="210.6" r="2.45" fill="#20a0dc"/>
<circle cx="130.8" cy="213.6" r="2.45" fill="#20a0dc"/>
<circle cx="133.1" cy="217.2" r="2.45" fill="#20a0dc"/>
<circle cx="135.4" cy="219.9" r="2.45" fill="#20a0dc"/>
<circle cx="137.7" cy="223.1" r="2.45" fill="#20a0dc"/>
<circle cx="140.0" cy="226.5" r="2.45" fill="#20a0dc"/>
<circle cx="142.3" cy="229.1" r="2.45" fill="#20a0dc"/>
<circle cx="144.6" cy="232.1" r="2.45" fill="#20a0dc"/>
<circle cx="146.9" cy="233.2" r="2.45" fill="#20a0dc"/>
<circle cx="149.2" cy="234.6" r="2.45" fill="#20a0dc"/>
<circle cx="151.5" cy="235.6" r="2.45" fill="#20a0dc"/>
<circle cx="153.8" cy="236.9" r="2.45" fill="#20a0dc"/>
<circle cx="156.1" cy="238.2" r="2.45" fill="#20a0dc"/>
<circle cx="158.4" cy="238.5" r="2.45" fill="#20a0dc"/>
<circle cx="160.7" cy="239.1" r="2.45" fill="#20a0dc"/>
<circle cx="163.0" cy="240.6" r="2.45" fill="#20a0dc"/>
<circle cx="165.3" cy="240.4" r="2.45" fill="#20a0dc"/>
<circle cx="167.6" cy="242.3" r="2.45" fill="#20a0dc"/>
<circle cx="169.9" cy="243.6" r="2.45" fill="#20a0dc"/>
<circle cx="172.2" cy="243.2" r="2.45" fill="#20a0dc"/>
<circle cx="174.5" cy="243.8" r="2.45" fill="#20a0dc"/>
<circle cx="176.8" cy="243.4" r="2.45" fill="#20a0dc"/>
<circle cx="179.1" cy="242.8" r="2.45" fill="#20a0dc"/>
<circle cx="181.4" cy="243.3" r="2.45" fill="#20a0dc"/>
<circle cx="183.7" cy="243.7" r="2.45" fill="#20a0dc"/>
<circle cx="186.0" cy="243.2" r="2.45" fill="#20a0dc"/>
<circle cx="188.3" cy="244.0" r="2.45" fill="#20a0dc"/>
<circle cx="190.6" cy="244.3" r="2.45" fill="#20a0dc"/>
<circle cx="192.9" cy="245.1" r="2.45" fill="#20a0dc"/>
<circle cx="195.2" cy="245.4" r="2.45" fill="#20a0dc"/>
<circle cx="197.5" cy="245.7" r="2.45" fill="#20a0dc"/>
<circle cx="199.8" cy="245.9" r="2.45" fill="#20a0dc"/>
<circle cx="202.1" cy="246.9" r="2.45" fill="#20a0dc"/>
<circle cx="204.4" cy="247.2" r="2.45" fill="#20a0dc"/>
<circle cx="206.7" cy="247.8" r="2.45" fill="#20a0dc"/>
<circle cx="209.0" cy="247.8" r="2.45" fill="#20a0dc"/>
<circle cx="211.3" cy="248.2" r="2.45" fill="#20a0dc"/>
<circle cx="213.6" cy="249.0" r="2.45" fill="#20a0dc"/>
<circle cx="215.9" cy="249.9" r="2.45" fill="#20a0dc"/>
<circle cx="218.2" cy="250.3" r="2.45" fill="#20a0dc"/>
<circle cx="220.5" cy="251.2" r="2.45" fill="#20a0dc"/>
<circle cx="222.8" cy="250.5" r="2.45" fill="#20a0dc"/>
<circle cx="225.1" cy="250.3" r="2.45" fill="#20a0dc"/>
<circle cx="227.4" cy="250.0" r="2.45" fill="#20a0dc"/>
<circle cx="229.7" cy="249.8" r="2.45" fill="#20a0dc"/>
<circle cx="232.0" cy="249.4" r="2.45" fill="#20a0dc"/>
<circle cx="234.3" cy="248.7" r="2.45" fill="#20a0dc"/>
<circle cx="236.6" cy="249.5" r="2.45" fill="#20a0dc"/>
<circle cx="238.9" cy="249.3" r="2.45" fill="#20a0dc"/>
<circle cx="241.2" cy="249.1" r="2.45" fill="#20a0dc"/>
<circle cx="243.5" cy="249.5" r="2.45" fill="#20a0dc"/>
<circle cx="245.8" cy="250.0" r="2.45" fill="#20a0dc"/>
<circle cx="248.1" cy="249.7" r="2.45" fill="#20a0dc"/>
<circle cx="250.4" cy="251.1" r="2.45" fill="#20a0dc"/>
<circle cx="252.7" cy="251.1" r="2.45" fill="#20a0dc"/>
<circle cx="83.5" cy="95.0" r="2.45" fill="#990099"/>
<circle cx="86.4" cy="115.6" r="2.45" fill="#990099"/>
<circle cx="89.3" cy="132.4" r="2.45" fill="#990099"/>
<circle cx="92.2" cy="143.1" r="2.45" fill="#990099"/>
<circle cx="95.1" cy="164.4" r="2.45" fill="#990099"/>
<circle cx="98.0" cy="178.0" r="2.45" fill="#990099"/>
<circle cx="100.9" cy="186.6" r="2.45" fill="#990099"/>
<circle cx="103.8" cy="199.5" r="2.45" fill="#990099"/>
<circle cx="106.7" cy="212.4" r="2.45" fill="#990099"/>
<circle cx="109.6" cy="221.9" r="2.45" fill="#990099"/>
<circle cx="112.5" cy="227.4" r="2.45" fill="#990099"/>
<circle cx="115.4" cy="239.4" r="2.45" fill="#990099"/>
<circle cx="118.3" cy="246.5" r="2.45" fill="#990099"/>
<circle cx="121.2" cy="249.3" r="2.45" fill="#990099"/>
<circle cx="124.1" cy="253.0" r="2.45" fill="#990099"/>
<circle cx="127.0" cy="258.4" r="2.45" fill="#990099"/>
<circle cx="129.9" cy="263.0" r="2.45" fill="#990099"/>
<circle cx="132.8" cy="267.6" r="2.45" fill="#990099"/>
<circle cx="135.7" cy="269.6" r="2.45" fill="#990099"/>
<circle cx="138.6" cy="270.4" r="2.45" fill="#990099"/>
<circle cx="141.5" cy="271.9" r="2.45" fill="#990099"/>
<circle cx="144.4" cy="274.0" r="2.45" fill="#990099"/>
<circle cx="147.3" cy="275.4" r="2.45" fill="#990099"/>
<circle cx="150.2" cy="276.1" r="2.45" fill="#990099"/>
<circle cx="153.1" cy="277.5" r="2.45" fill="#990099"/>
<circle cx="156.0" cy="279.9" r="2.45" fill="#990099"/>
<circle cx="158.9" cy="280.2" r="2.45" fill="#990099"/>
<circle cx="161.8" cy="280.2" r="2.45" fill="#990099"/>
<circle cx="164.7" cy="280.2" r="2.45" fill="#990099"/>
<circle cx="167.6" cy="279.7" r="2.45" fill="#990099"/>
<circle cx="170.5" cy="280.7" r="2.45" fill="#990099"/>
<circle cx="173.4" cy="279.2" r="2.45" fill="#990099"/>
<circle cx="176.3" cy="280.0" r="2.45" fill="#990099"/>
<circle cx="179.2" cy="281.8" r="2.45" fill="#990099"/>
<circle cx="182.1" cy="282.0" r="2.45" fill="#990099"/>
<circle cx="185.0" cy="282.8" r="2.45" fill="#990099"/>
<circle cx="187.9" cy="283.6" r="2.45" fill="#990099"/>
<circle cx="190.8" cy="283.4" r="2.45" fill="#990099"/>
<circle cx="193.7" cy="282.5" r="2.45" fill="#990099"/>
<circle cx="196.6" cy="284.0" r="2.45" fill="#990099"/>
<circle cx="199.5" cy="285.7" r="2.45" fill="#990099"/>
<circle cx="202.4" cy="287.7" r="2.45" fill="#990099"/>
<circle cx="205.3" cy="287.6" r="2.45" fill="#990099"/>
<circle cx="208.2" cy="286.2" r="2.45" fill="#990099"/>
<circle cx="211.1" cy="284.4" r="2.45" fill="#990099"/>
<circle cx="214.0" cy="286.7" r="2.45" fill="#990099"/>
<circle cx="216.9" cy="288.6" r="2.45" fill="#990099"/>
<circle cx="219.8" cy="287.7" r="2.45" fill="#990099"/>
<circle cx="222.7" cy="288.5" r="2.45" fill="#990099"/>
<circle cx="225.6" cy="288.1" r="2.45" fill="#990099"/>
<circle cx="228.5" cy="288.9" r="2.45" fill="#990099"/>
<circle cx="231.4" cy="289.1" r="2.45" fill="#990099"/>
<circle cx="234.3" cy="288.9" r="2.45" fill="#990099"/>
<circle cx="237.2" cy="288.8" r="2.45" fill="#990099"/>
<circle cx="240.1" cy="285.7" r="2.45" fill="#990099"/>
<circle cx="243.0" cy="282.7" r="2.45" fill="#990099"/>
<circle cx="245.9" cy="283.7" r="2.45" fill="#990099"/>
<circle cx="248.8" cy="285.7" r="2.45" fill="#990099"/>
<circle cx="251.7" cy="289.0" r="2.45" fill="#990099"/>
</g>
<text x="264.40" y="45.20" font-size="14" text-anchor="start" font-weight="bold" fill="#000" >KaiB</text>
<text x="301.2" y="74.8" font-size="12.5" font-weight="bold" fill="#3a3a3a" text-anchor="end">0.9<tspan font-weight="normal" dx="2">μ</tspan><tspan dx="2">M</tspan></text>
<text x="301.2" y="138.7" font-size="12.5" font-weight="bold" fill="#ff1010" text-anchor="end">1.8<tspan font-weight="normal" dx="2">μ</tspan><tspan dx="2">M</tspan></text>
<text x="301.2" y="185.6" font-size="12.5" font-weight="bold" fill="#22ee22" text-anchor="end">2.6<tspan font-weight="normal" dx="2">μ</tspan><tspan dx="2">M</tspan></text>
<text x="301.2" y="229.2" font-size="12.5" font-weight="bold" fill="#1f9040" text-anchor="end">3.5<tspan font-weight="normal" dx="2">μ</tspan><tspan dx="2">M</tspan></text>
<text x="301.2" y="255.9" font-size="12.5" font-weight="bold" fill="#2296d8" text-anchor="end">5.3<tspan font-weight="normal" dx="2">μ</tspan><tspan dx="2">M</tspan></text>
<text x="301.2" y="272.9" font-size="12.5" font-weight="bold" fill="#1c1cc8" text-anchor="end">7.0<tspan font-weight="normal" dx="2">μ</tspan><tspan dx="2">M</tspan></text>
<text x="301.2" y="296.2" font-size="12.5" font-weight="bold" fill="#cc1199" text-anchor="end">10.5<tspan font-weight="normal" dx="2">μ</tspan><tspan dx="2">M</tspan></text>
<text x="355.80" y="635.20" font-size="20" text-anchor="start" font-weight="bold" fill="#000" >(f)</text>
<text x="375.30" y="678.40" font-size="13" text-anchor="start" font-weight="bold" fill="#000" >kDa</text>
<text x="524.00" y="628.70" font-size="13.5" text-anchor="middle" font-weight="bold" fill="#000" >AMP-PNP</text>
<text x="599.20" y="628.70" font-size="13.5" text-anchor="middle" font-weight="bold" fill="#000" >ATP</text>
<rect x="478" y="633.5" width="89.8" height="3.2" fill="#000"/>
<rect x="577.7" y="633.5" width="43.1" height="3.2" fill="#000"/>
<text x="499.20" y="654.90" font-size="13.5" text-anchor="middle" font-weight="bold" fill="#000" >2 min.</text>
<text x="547.40" y="654.90" font-size="13.5" text-anchor="middle" font-weight="bold" fill="#000" >18 h</text>
<text x="600.20" y="654.90" font-size="13.5" text-anchor="middle" font-weight="bold" fill="#000" >18 h</text>
<rect x="476.7" y="659.4" width="43.4" height="3.2" fill="#000"/>
<rect x="525.7" y="659.4" width="44" height="3.2" fill="#000"/>
<rect x="579.3" y="659.4" width="43.4" height="3.2" fill="#000"/>
<text x="499.20" y="678.50" font-size="13.5" text-anchor="middle" font-weight="bold" fill="#000" >a'</text>
<text x="549.00" y="678.50" font-size="13.5" text-anchor="middle" font-weight="bold" fill="#000" >b'</text>
<text x="598.80" y="678.50" font-size="13.5" text-anchor="middle" font-weight="bold" fill="#000" >g</text>
<defs><filter id="bl0" x="-20%" y="-100%" width="140%" height="300%"><feGaussianBlur stdDeviation="0.4"/></filter><filter id="bl1" x="-20%" y="-100%" width="140%" height="300%"><feGaussianBlur stdDeviation="0.9"/></filter><filter id="bl2" x="-30%" y="-50%" width="160%" height="200%"><feGaussianBlur stdDeviation="2.2"/></filter><filter id="bl3" x="-30%" y="-50%" width="160%" height="200%"><feGaussianBlur stdDeviation="1.2"/></filter></defs>
<defs><linearGradient id="gb" x1="0" y1="0" x2="0" y2="1"><stop offset="0" stop-color="#c7c7c7"/><stop offset="0.62" stop-color="#c9c9c9"/><stop offset="0.86" stop-color="#cdcdcd"/><stop offset="0.93" stop-color="#d2d2d2"/><stop offset="1" stop-color="#d3d3d3"/></linearGradient></defs>
<rect x="415.5" y="682.2" width="214.0" height="222.29999999999995" fill="url(#gb)"/>
<rect x="415.5" y="682.2" width="214.0" height="68.79999999999995" fill="#bdbdbd"/>
<rect x="415.5" y="682.2" width="214.0" height="47.799999999999955" fill="#ababab"/>
<rect x="415.5" y="682.2" width="214.0" height="28.799999999999955" fill="#b0b0b0"/>
<rect x="481" y="688" width="1" height="1" fill="#9a9a9a"/>
<rect x="490" y="693" width="1" height="1" fill="#9a9a9a"/>
<rect x="594" y="684" width="1" height="1" fill="#9a9a9a"/>
<rect x="575" y="707" width="1" height="1" fill="#9a9a9a"/>
<rect x="443" y="709" width="1" height="1" fill="#9a9a9a"/>
<rect x="567" y="708" width="1" height="1" fill="#9a9a9a"/>
<rect x="478" y="694" width="1" height="1" fill="#9a9a9a"/>
<rect x="500" y="711" width="1" height="1" fill="#9a9a9a"/>
<rect x="541" y="694" width="1" height="1" fill="#9a9a9a"/>
<rect x="507" y="692" width="1" height="1" fill="#9a9a9a"/>
<rect x="428" y="687" width="1" height="1" fill="#9a9a9a"/>
<rect x="593" y="692" width="1" height="1" fill="#9a9a9a"/>
<rect x="614" y="691" width="1" height="1" fill="#9a9a9a"/>
<rect x="473" y="698" width="1" height="1" fill="#9a9a9a"/>
<rect x="457" y="694" width="1" height="1" fill="#9a9a9a"/>
<rect x="618" y="708" width="1" height="1" fill="#9a9a9a"/>
<rect x="588" y="701" width="1" height="1" fill="#9a9a9a"/>
<rect x="609" y="709" width="1" height="1" fill="#9a9a9a"/>
<rect x="533" y="703" width="1" height="1" fill="#9a9a9a"/>
<rect x="428" y="704" width="1" height="1" fill="#9a9a9a"/>
<rect x="512" y="704" width="1" height="1" fill="#9a9a9a"/>
<rect x="553" y="692" width="1" height="1" fill="#9a9a9a"/>
<rect x="428" y="709" width="1" height="1" fill="#9a9a9a"/>
<rect x="444" y="697" width="1" height="1" fill="#9a9a9a"/>
<rect x="490" y="692" width="1" height="1" fill="#9a9a9a"/>
<rect x="573" y="710" width="1" height="1" fill="#9a9a9a"/>
<rect x="472" y="702" width="1" height="1" fill="#9a9a9a"/>
<rect x="481" y="699" width="1" height="1" fill="#9a9a9a"/>
<rect x="500" y="689" width="1" height="1" fill="#9a9a9a"/>
<rect x="451" y="690" width="1" height="1" fill="#9a9a9a"/>
<rect x="608" y="698" width="1" height="1" fill="#9a9a9a"/>
<rect x="464" y="708" width="1" height="1" fill="#9a9a9a"/>
<rect x="627" y="696" width="1" height="1" fill="#9a9a9a"/>
<rect x="447" y="689" width="1" height="1" fill="#9a9a9a"/>
<rect x="437" y="693" width="1" height="1" fill="#9a9a9a"/>
<rect x="437" y="691" width="1" height="1" fill="#9a9a9a"/>
<rect x="472" y="699" width="1" height="1" fill="#9a9a9a"/>
<rect x="604" y="704" width="1" height="1" fill="#9a9a9a"/>
<rect x="504" y="695" width="1" height="1" fill="#9a9a9a"/>
<rect x="528" y="694" width="1" height="1" fill="#9a9a9a"/>
<rect x="489" y="686" width="1" height="1" fill="#9a9a9a"/>
<rect x="476" y="710" width="1" height="1" fill="#9a9a9a"/>
<rect x="444" y="698" width="1" height="1" fill="#9a9a9a"/>
<rect x="550" y="707" width="1" height="1" fill="#9a9a9a"/>
<rect x="463" y="691" width="1" height="1" fill="#9a9a9a"/>
<rect x="470" y="695" width="1" height="1" fill="#9a9a9a"/>
<rect x="511" y="710" width="1" height="1" fill="#9a9a9a"/>
<rect x="596" y="708" width="1" height="1" fill="#9a9a9a"/>
<rect x="422" y="685" width="1" height="1" fill="#9a9a9a"/>
<rect x="566" y="708" width="1" height="1" fill="#9a9a9a"/>
<rect x="517" y="700" width="1" height="1" fill="#9a9a9a"/>
<rect x="418" y="695" width="1" height="1" fill="#9a9a9a"/>
<rect x="612" y="706" width="1" height="1" fill="#9a9a9a"/>
<rect x="597" y="710" width="1" height="1" fill="#9a9a9a"/>
<rect x="470" y="687" width="1" height="1" fill="#9a9a9a"/>
<rect x="450" y="698" width="1" height="1" fill="#9a9a9a"/>
<rect x="561" y="709" width="1" height="1" fill="#9a9a9a"/>
<rect x="569" y="702" width="1" height="1" fill="#9a9a9a"/>
<rect x="578" y="696" width="1" height="1" fill="#9a9a9a"/>
<rect x="533" y="685" width="1" height="1" fill="#9a9a9a"/>
<rect x="582" y="690" width="1" height="1" fill="#9a9a9a"/>
<rect x="611" y="701" width="1" height="1" fill="#9a9a9a"/>
<rect x="481" y="688" width="1" height="1" fill="#9a9a9a"/>
<rect x="470" y="701" width="1" height="1" fill="#9a9a9a"/>
<rect x="564" y="687" width="1" height="1" fill="#9a9a9a"/>
<rect x="432" y="698" width="1" height="1" fill="#9a9a9a"/>
<rect x="540" y="695" width="1" height="1" fill="#9a9a9a"/>
<rect x="464" y="700" width="1" height="1" fill="#9a9a9a"/>
<rect x="420" y="692" width="1" height="1" fill="#9a9a9a"/>
<rect x="514" y="710" width="1" height="1" fill="#9a9a9a"/>
<rect x="553" y="708" width="1" height="1" fill="#9a9a9a"/>
<rect x="517" y="690" width="1" height="1" fill="#9a9a9a"/>
<rect x="469" y="710" width="1" height="1" fill="#9a9a9a"/>
<rect x="565" y="692" width="1" height="1" fill="#9a9a9a"/>
<rect x="422" y="698" width="1" height="1" fill="#9a9a9a"/>
<rect x="559" y="695" width="1" height="1" fill="#9a9a9a"/>
<rect x="472" y="702" width="1" height="1" fill="#9a9a9a"/>
<rect x="612" y="690" width="1" height="1" fill="#9a9a9a"/>
<rect x="425" y="693" width="1" height="1" fill="#9a9a9a"/>
<rect x="506" y="702" width="1" height="1" fill="#9a9a9a"/>
<rect x="459" y="706" width="1" height="1" fill="#9a9a9a"/>
<rect x="573" y="698" width="1" height="1" fill="#9a9a9a"/>
<rect x="461" y="710" width="1" height="1" fill="#9a9a9a"/>
<rect x="483" y="706" width="1" height="1" fill="#9a9a9a"/>
<rect x="466" y="690" width="1" height="1" fill="#9a9a9a"/>
<rect x="577" y="692" width="1" height="1" fill="#9a9a9a"/>
<rect x="617" y="697" width="1" height="1" fill="#9a9a9a"/>
<rect x="457" y="690" width="1" height="1" fill="#9a9a9a"/>
<rect x="505" y="702" width="1" height="1" fill="#9a9a9a"/>
<rect x="617" y="688" width="1" height="1" fill="#9a9a9a"/>
<rect x="500" y="690" width="1" height="1" fill="#9a9a9a"/>
<rect x="622" y="688" width="1" height="1" fill="#9a9a9a"/>
<rect x="428" y="686" width="1" height="1" fill="#9a9a9a"/>
<rect x="500" y="708" width="1" height="1" fill="#9a9a9a"/>
<rect x="603" y="704" width="1" height="1" fill="#9a9a9a"/>
<rect x="627" y="709" width="1" height="1" fill="#9a9a9a"/>
<rect x="487" y="689" width="1" height="1" fill="#9a9a9a"/>
<rect x="614" y="704" width="1" height="1" fill="#9a9a9a"/>
<rect x="424" y="702" width="1" height="1" fill="#9a9a9a"/>
<rect x="497" y="694" width="1" height="1" fill="#9a9a9a"/>
<rect x="487" y="689" width="1" height="1" fill="#9a9a9a"/>
<rect x="418" y="692" width="1" height="1" fill="#9a9a9a"/>
<rect x="491" y="710" width="1" height="1" fill="#9a9a9a"/>
<rect x="443" y="710" width="1" height="1" fill="#9a9a9a"/>
<rect x="461" y="694" width="1" height="1" fill="#9a9a9a"/>
<rect x="590" y="706" width="1" height="1" fill="#9a9a9a"/>
<rect x="508" y="686" width="1" height="1" fill="#9a9a9a"/>
<rect x="517" y="694" width="1" height="1" fill="#9a9a9a"/>
<rect x="611" y="689" width="1" height="1" fill="#9a9a9a"/>
<rect x="494" y="708" width="1" height="1" fill="#9a9a9a"/>
<rect x="424" y="695" width="1" height="1" fill="#9a9a9a"/>
<rect x="588" y="705" width="1" height="1" fill="#9a9a9a"/>
<rect x="426" y="685" width="1" height="1" fill="#9a9a9a"/>
<rect x="431" y="709" width="1" height="1" fill="#9a9a9a"/>
<rect x="471" y="704" width="1" height="1" fill="#9a9a9a"/>
<rect x="606" y="693" width="1" height="1" fill="#9a9a9a"/>
<rect x="475" y="710" width="1" height="1" fill="#9a9a9a"/>
<rect x="547" y="691" width="1" height="1" fill="#9a9a9a"/>
<rect x="568" y="693" width="1" height="1" fill="#9a9a9a"/>
<rect x="475" y="684" width="1" height="1" fill="#9a9a9a"/>
<rect x="576" y="709" width="1" height="1" fill="#9a9a9a"/>
<rect x="551" y="709" width="1" height="1" fill="#9a9a9a"/>
<rect x="423" y="690" width="1" height="1" fill="#9a9a9a"/>
<rect x="517" y="710" width="1" height="1" fill="#9a9a9a"/>
<rect x="618" y="695" width="1" height="1" fill="#9a9a9a"/>
<rect x="470" y="696" width="1" height="1" fill="#9a9a9a"/>
<rect x="521" y="709" width="1" height="1" fill="#9a9a9a"/>
<rect x="456" y="706" width="1" height="1" fill="#9a9a9a"/>
<rect x="573" y="706" width="1" height="1" fill="#9a9a9a"/>
<rect x="580" y="700" width="1" height="1" fill="#9a9a9a"/>
<rect x="486" y="693" width="1" height="1" fill="#9a9a9a"/>
<rect x="493" y="705" width="1" height="1" fill="#9a9a9a"/>
<rect x="434" y="689" width="1" height="1" fill="#9a9a9a"/>
<rect x="576" y="691" width="1" height="1" fill="#9a9a9a"/>
<rect x="431" y="685" width="1" height="1" fill="#9a9a9a"/>
<rect x="534" y="693" width="1" height="1" fill="#9a9a9a"/>
<rect x="623" y="708" width="1" height="1" fill="#9a9a9a"/>
<rect x="625" y="691" width="1" height="1" fill="#9a9a9a"/>
<rect x="435" y="687" width="1" height="1" fill="#9a9a9a"/>
<rect x="522" y="703" width="1" height="1" fill="#9a9a9a"/>
<rect x="511" y="690" width="1" height="1" fill="#9a9a9a"/>
<rect x="505" y="701" width="1" height="1" fill="#9a9a9a"/>
<rect x="559" y="704" width="1" height="1" fill="#9a9a9a"/>
<rect x="595" y="702" width="1" height="1" fill="#9a9a9a"/>
<rect x="443" y="707" width="1" height="1" fill="#9a9a9a"/>
<rect x="479" y="699" width="1" height="1" fill="#9a9a9a"/>
<rect x="496" y="704" width="1" height="1" fill="#9a9a9a"/>
<rect x="459" y="691" width="1" height="1" fill="#9a9a9a"/>
<rect x="469" y="688" width="1" height="1" fill="#9a9a9a"/>
<rect x="603" y="700" width="1" height="1" fill="#9a9a9a"/>
<rect x="486" y="695" width="1" height="1" fill="#9a9a9a"/>
<rect x="626" y="698" width="1" height="1" fill="#9a9a9a"/>
<rect x="466" y="706" width="1" height="1" fill="#9a9a9a"/>
<rect x="555" y="711" width="1" height="1" fill="#9a9a9a"/>
<rect x="439" y="697" width="1" height="1" fill="#9a9a9a"/>
<rect x="590" y="707" width="1" height="1" fill="#9a9a9a"/>
<rect x="610" y="685" width="1" height="1" fill="#9a9a9a"/>
<rect x="479" y="687" width="1" height="1" fill="#9a9a9a"/>
<rect x="457" y="710" width="1" height="1" fill="#9a9a9a"/>
<rect x="540" y="709" width="1" height="1" fill="#9a9a9a"/>
<rect x="496" y="707" width="1" height="1" fill="#9a9a9a"/>
<rect x="512" y="691" width="1" height="1" fill="#9a9a9a"/>
<rect x="581" y="710" width="1" height="1" fill="#9a9a9a"/>
<rect x="440" y="700" width="1" height="1" fill="#9a9a9a"/>
<rect x="548" y="690" width="1" height="1" fill="#9a9a9a"/>
<rect x="495" y="688" width="1" height="1" fill="#9a9a9a"/>
<rect x="460" y="691" width="1" height="1" fill="#9a9a9a"/>
<rect x="543" y="702" width="1" height="1" fill="#9a9a9a"/>
<rect x="460" y="685" width="1" height="1" fill="#9a9a9a"/>
<rect x="486" y="702" width="1" height="1" fill="#9a9a9a"/>
<rect x="456" y="693" width="1" height="1" fill="#9a9a9a"/>
<rect x="460" y="706" width="1" height="1" fill="#9a9a9a"/>
<rect x="533" y="686" width="1" height="1" fill="#9a9a9a"/>
<rect x="439" y="695" width="1" height="1" fill="#9a9a9a"/>
<rect x="533" y="701" width="1" height="1" fill="#9a9a9a"/>
<rect x="437" y="689" width="1" height="1" fill="#9a9a9a"/>
<rect x="564" y="695" width="1" height="1" fill="#9a9a9a"/>
<rect x="477" y="692" width="1" height="1" fill="#9a9a9a"/>
<rect x="618" y="693" width="1" height="1" fill="#9a9a9a"/>
<rect x="536" y="694" width="1" height="1" fill="#9a9a9a"/>
<rect x="505" y="707" width="1" height="1" fill="#9a9a9a"/>
<rect x="627" y="694" width="1" height="1" fill="#9a9a9a"/>
<rect x="459" y="704" width="1" height="1" fill="#9a9a9a"/>
<rect x="460" y="684" width="1" height="1" fill="#9a9a9a"/>
<rect x="607" y="696" width="1" height="1" fill="#9a9a9a"/>
<rect x="590" y="695" width="1" height="1" fill="#9a9a9a"/>
<rect x="603" y="697" width="1" height="1" fill="#9a9a9a"/>
<rect x="452" y="685" width="1" height="1" fill="#9a9a9a"/>
<rect x="533" y="701" width="1" height="1" fill="#9a9a9a"/>
<rect x="609" y="687" width="1" height="1" fill="#9a9a9a"/>
<rect x="548" y="694" width="1" height="1" fill="#9a9a9a"/>
<rect x="523" y="688" width="1" height="1" fill="#9a9a9a"/>
<rect x="477" y="698" width="1" height="1" fill="#9a9a9a"/>
<rect x="612" y="687" width="1" height="1" fill="#9a9a9a"/>
<rect x="521" y="706" width="1" height="1" fill="#9a9a9a"/>
<rect x="621" y="689" width="1" height="1" fill="#9a9a9a"/>
<rect x="444" y="709" width="1" height="1" fill="#9a9a9a"/>
<rect x="622" y="697" width="1" height="1" fill="#9a9a9a"/>
<rect x="429" y="709" width="1" height="1" fill="#9a9a9a"/>
<rect x="499" y="708" width="1" height="1" fill="#9a9a9a"/>
<rect x="548" y="706" width="1" height="1" fill="#9a9a9a"/>
<rect x="451" y="705" width="1" height="1" fill="#9a9a9a"/>
<rect x="464" y="695" width="1" height="1" fill="#9a9a9a"/>
<rect x="595" y="706" width="1" height="1" fill="#9a9a9a"/>
<rect x="456" y="690" width="1" height="1" fill="#9a9a9a"/>
<rect x="501" y="698" width="1" height="1" fill="#9a9a9a"/>
<rect x="498" y="687" width="1" height="1" fill="#9a9a9a"/>
<rect x="469" y="704" width="1" height="1" fill="#9a9a9a"/>
<rect x="606" y="685" width="1" height="1" fill="#9a9a9a"/>
<rect x="536" y="704" width="1" height="1" fill="#9a9a9a"/>
<rect x="426" y="707" width="1" height="1" fill="#9a9a9a"/>
<rect x="442" y="700" width="1" height="1" fill="#9a9a9a"/>
<rect x="533" y="701" width="1" height="1" fill="#9a9a9a"/>
<rect x="482" y="695" width="1" height="1" fill="#9a9a9a"/>
<rect x="540" y="696" width="1" height="1" fill="#9a9a9a"/>
<rect x="556" y="696" width="1" height="1" fill="#9a9a9a"/>
<rect x="510" y="685" width="1" height="1" fill="#9a9a9a"/>
<rect x="547" y="697" width="1" height="1" fill="#9a9a9a"/>
<rect x="467" y="705" width="1" height="1" fill="#9a9a9a"/>
<rect x="581" y="696" width="1" height="1" fill="#9a9a9a"/>
<rect x="455" y="697" width="1" height="1" fill="#9a9a9a"/>
<rect x="440" y="688" width="1" height="1" fill="#9a9a9a"/>
<rect x="508" y="687" width="1" height="1" fill="#9a9a9a"/>
<rect x="510" y="698" width="1" height="1" fill="#9a9a9a"/>
<rect x="426" y="701" width="1" height="1" fill="#9a9a9a"/>
<rect x="435" y="704" width="1" height="1" fill="#9a9a9a"/>
<rect x="581" y="698" width="1" height="1" fill="#9a9a9a"/>
<rect x="429" y="698" width="1" height="1" fill="#9a9a9a"/>
<rect x="497" y="710" width="1" height="1" fill="#9a9a9a"/>
<rect x="446" y="707" width="1" height="1" fill="#9a9a9a"/>
<rect x="627" y="704" width="1" height="1" fill="#9a9a9a"/>
<rect x="589" y="689" width="1" height="1" fill="#9a9a9a"/>
<rect x="624" y="697" width="1" height="1" fill="#9a9a9a"/>
<rect x="618" y="709" width="1" height="1" fill="#9a9a9a"/>
<rect x="452" y="705" width="1" height="1" fill="#9a9a9a"/>
<rect x="613" y="686" width="1" height="1" fill="#9a9a9a"/>
<rect x="491" y="704" width="1" height="1" fill="#9a9a9a"/>
<rect x="451" y="708" width="1" height="1" fill="#9a9a9a"/>
<rect x="475" y="706" width="1" height="1" fill="#9a9a9a"/>
<rect x="448" y="698" width="1" height="1" fill="#9a9a9a"/>
<rect x="611" y="690" width="1" height="1" fill="#9a9a9a"/>
<rect x="473" y="698" width="1" height="1" fill="#9a9a9a"/>
<rect x="485" y="685" width="1" height="1" fill="#9a9a9a"/>
<rect x="456" y="689" width="1" height="1" fill="#9a9a9a"/>
<rect x="614" y="702" width="1" height="1" fill="#9a9a9a"/>
<rect x="606" y="689" width="1" height="1" fill="#9a9a9a"/>
<rect x="582" y="687" width="1" height="1" fill="#9a9a9a"/>
<rect x="529" y="701" width="1" height="1" fill="#9a9a9a"/>
<rect x="493" y="708" width="1" height="1" fill="#9a9a9a"/>
<rect x="534" y="700" width="1" height="1" fill="#9a9a9a"/>
<rect x="603" y="687" width="1" height="1" fill="#9a9a9a"/>
<rect x="626" y="701" width="1" height="1" fill="#9a9a9a"/>
<rect x="500" y="706" width="1" height="1" fill="#9a9a9a"/>
<rect x="473" y="711" width="1" height="1" fill="#9a9a9a"/>
<rect x="539" y="694" width="1" height="1" fill="#9a9a9a"/>
<rect x="578" y="696" width="1" height="1" fill="#9a9a9a"/>
<rect x="455" y="704" width="1" height="1" fill="#9a9a9a"/>
<rect x="428" y="706" width="1" height="1" fill="#9a9a9a"/>
<rect x="471" y="701" width="1" height="1" fill="#9a9a9a"/>
<rect x="624" y="700" width="1" height="1" fill="#9a9a9a"/>
<rect x="557" y="693" width="1" height="1" fill="#9a9a9a"/>
<rect x="418" y="685" width="1" height="1" fill="#9a9a9a"/>
<rect x="449" y="701" width="1" height="1" fill="#9a9a9a"/>
<rect x="508" y="698" width="1" height="1" fill="#9a9a9a"/>
<rect x="606" y="688" width="1" height="1" fill="#9a9a9a"/>
<rect x="465" y="702" width="1" height="1" fill="#9a9a9a"/>
<rect x="422" y="684" width="1" height="1" fill="#9a9a9a"/>
<rect x="492" y="687" width="1" height="1" fill="#9a9a9a"/>
<rect x="493" y="690" width="1" height="1" fill="#9a9a9a"/>
<rect x="540" y="700" width="1" height="1" fill="#9a9a9a"/>
<rect x="460" y="701" width="1" height="1" fill="#9a9a9a"/>
<rect x="517" y="688" width="1" height="1" fill="#9a9a9a"/>
<rect x="614" y="691" width="1" height="1" fill="#9a9a9a"/>
<rect x="449" y="687" width="1" height="1" fill="#9a9a9a"/>
<rect x="552" y="708" width="1" height="1" fill="#9a9a9a"/>
<rect x="582" y="695" width="1" height="1" fill="#9a9a9a"/>
<rect x="473" y="685" width="1" height="1" fill="#9a9a9a"/>
<rect x="553" y="699" width="1" height="1" fill="#9a9a9a"/>
<rect x="491" y="702" width="1" height="1" fill="#9a9a9a"/>
<rect x="511" y="709" width="1" height="1" fill="#9a9a9a"/>
<rect x="572" y="691" width="1" height="1" fill="#9a9a9a"/>
<rect x="607" y="685" width="1" height="1" fill="#9a9a9a"/>
<rect x="529" y="695" width="1" height="1" fill="#9a9a9a"/>
<rect x="467" y="686" width="1" height="1" fill="#9a9a9a"/>
<rect x="581" y="685" width="1" height="1" fill="#9a9a9a"/>
<rect x="533" y="709" width="1" height="1" fill="#9a9a9a"/>
<rect x="447" y="690" width="1" height="1" fill="#9a9a9a"/>
<rect x="545" y="698" width="1" height="1" fill="#9a9a9a"/>
<rect x="552" y="706" width="1" height="1" fill="#9a9a9a"/>
<rect x="454" y="692" width="1" height="1" fill="#9a9a9a"/>
<rect x="481" y="685" width="1" height="1" fill="#9a9a9a"/>
<rect x="604" y="705" width="1" height="1" fill="#9a9a9a"/>
<rect x="568" y="684" width="1" height="1" fill="#9a9a9a"/>
<rect x="595" y="704" width="1" height="1" fill="#9a9a9a"/>
<rect x="515" y="704" width="1" height="1" fill="#9a9a9a"/>
<rect x="513" y="690" width="1" height="1" fill="#9a9a9a"/>
<rect x="440" y="690" width="1" height="1" fill="#9a9a9a"/>
<rect x="426" y="693" width="1" height="1" fill="#9a9a9a"/>
<rect x="575" y="703" width="1" height="1" fill="#9a9a9a"/>
<rect x="595" y="703" width="1" height="1" fill="#9a9a9a"/>
<rect x="473" y="699" width="1" height="1" fill="#9a9a9a"/>
<rect x="509" y="705" width="1" height="1" fill="#9a9a9a"/>
<rect x="527" y="691" width="1" height="1" fill="#9a9a9a"/>
<rect x="552" y="710" width="1" height="1" fill="#9a9a9a"/>
<rect x="463" y="708" width="1" height="1" fill="#9a9a9a"/>
<rect x="421" y="691" width="1" height="1" fill="#9a9a9a"/>
<rect x="467" y="704" width="1" height="1" fill="#9a9a9a"/>
<rect x="616" y="704" width="1" height="1" fill="#9a9a9a"/>
<rect x="486" y="708" width="1" height="1" fill="#9a9a9a"/>
<rect x="486" y="691" width="1" height="1" fill="#9a9a9a"/>
<rect x="608" y="701" width="1" height="1" fill="#9a9a9a"/>
<rect x="563" y="702" width="1" height="1" fill="#9a9a9a"/>
<rect x="623" y="697" width="1" height="1" fill="#9a9a9a"/>
<rect x="594" y="703" width="1" height="1" fill="#9a9a9a"/>
<rect x="598" y="696" width="1" height="1" fill="#9a9a9a"/>
<rect x="570" y="699" width="1" height="1" fill="#9a9a9a"/>
<rect x="482" y="690" width="1" height="1" fill="#9a9a9a"/>
<rect x="548" y="686" width="1" height="1" fill="#9a9a9a"/>
<rect x="609" y="688" width="1" height="1" fill="#9a9a9a"/>
<rect x="423" y="687" width="1" height="1" fill="#9a9a9a"/>
<rect x="613" y="693" width="1" height="1" fill="#9a9a9a"/>
<rect x="447" y="685" width="1" height="1" fill="#9a9a9a"/>
<rect x="426" y="703" width="1" height="1" fill="#9a9a9a"/>
<rect x="551" y="703" width="1" height="1" fill="#9a9a9a"/>
<rect x="572" y="686" width="1" height="1" fill="#9a9a9a"/>
<rect x="541" y="694" width="1" height="1" fill="#9a9a9a"/>
<rect x="589" y="706" width="1" height="1" fill="#9a9a9a"/>
<rect x="605" y="686" width="1" height="1" fill="#9a9a9a"/>
<rect x="600" y="709" width="1" height="1" fill="#9a9a9a"/>
<rect x="616" y="687" width="1" height="1" fill="#9a9a9a"/>
<rect x="461" y="687" width="1" height="1" fill="#9a9a9a"/>
<rect x="425" y="707" width="1" height="1" fill="#9a9a9a"/>
<rect x="588" y="701" width="1" height="1" fill="#9a9a9a"/>
<rect x="591" y="701" width="1" height="1" fill="#9a9a9a"/>
<rect x="478" y="687" width="1" height="1" fill="#9a9a9a"/>
<rect x="438" y="704" width="1" height="1" fill="#9a9a9a"/>
<rect x="461" y="693" width="1" height="1" fill="#9a9a9a"/>
<rect x="506" y="685" width="1" height="1" fill="#9a9a9a"/>
<rect x="471" y="692" width="1" height="1" fill="#9a9a9a"/>
<rect x="568" y="694" width="1" height="1" fill="#9a9a9a"/>
<rect x="485" y="710" width="1" height="1" fill="#9a9a9a"/>
<rect x="523" y="707" width="1" height="1" fill="#9a9a9a"/>
<rect x="547" y="685" width="1" height="1" fill="#9a9a9a"/>
<rect x="504" y="696" width="1" height="1" fill="#9a9a9a"/>
<rect x="580" y="693" width="1" height="1" fill="#9a9a9a"/>
<rect x="565" y="699" width="1" height="1" fill="#9a9a9a"/>
<rect x="463" y="707" width="1" height="1" fill="#9a9a9a"/>
<rect x="437" y="706" width="1" height="1" fill="#9a9a9a"/>
<rect x="453" y="684" width="1" height="1" fill="#9a9a9a"/>
<rect x="460" y="705" width="1" height="1" fill="#9a9a9a"/>
<rect x="623" y="684" width="1" height="1" fill="#9a9a9a"/>
<rect x="521" y="697" width="1" height="1" fill="#9a9a9a"/>
<rect x="585" y="689" width="1" height="1" fill="#9a9a9a"/>
<rect x="521" y="694" width="1" height="1" fill="#9a9a9a"/>
<rect x="592" y="691" width="1" height="1" fill="#9a9a9a"/>
<rect x="616" y="692" width="1" height="1" fill="#9a9a9a"/>
<rect x="463" y="703" width="1" height="1" fill="#9a9a9a"/>
<rect x="522" y="687" width="1" height="1" fill="#9a9a9a"/>
<rect x="551" y="686" width="1" height="1" fill="#9a9a9a"/>
<rect x="583" y="703" width="1" height="1" fill="#9a9a9a"/>
<rect x="583" y="701" width="1" height="1" fill="#9a9a9a"/>
<rect x="492" y="695" width="1" height="1" fill="#9a9a9a"/>
<rect x="500" y="708" width="1" height="1" fill="#9a9a9a"/>
<rect x="436" y="708" width="1" height="1" fill="#9a9a9a"/>
<rect x="423" y="690" width="1" height="1" fill="#9a9a9a"/>
<rect x="473" y="708" width="1" height="1" fill="#9a9a9a"/>
<rect x="523" y="694" width="1" height="1" fill="#9a9a9a"/>
<rect x="603" y="690" width="1" height="1" fill="#9a9a9a"/>
<rect x="514" y="698" width="1" height="1" fill="#9a9a9a"/>
<rect x="576" y="704" width="1" height="1" fill="#9a9a9a"/>
<rect x="553" y="694" width="1" height="1" fill="#9a9a9a"/>
<rect x="486" y="688" width="1" height="1" fill="#9a9a9a"/>
<rect x="595" y="702" width="1" height="1" fill="#9a9a9a"/>
<rect x="573" y="689" width="1" height="1" fill="#9a9a9a"/>
<rect x="510" y="705" width="1" height="1" fill="#9a9a9a"/>
<rect x="539" y="688" width="1" height="1" fill="#9a9a9a"/>
<rect x="515" y="708" width="1" height="1" fill="#9a9a9a"/>
<rect x="467" y="689" width="1" height="1" fill="#9a9a9a"/>
<rect x="481" y="703" width="1" height="1" fill="#9a9a9a"/>
<rect x="595" y="688" width="1" height="1" fill="#9a9a9a"/>
<rect x="450" y="691" width="1" height="1" fill="#9a9a9a"/>
<rect x="486" y="698" width="1" height="1" fill="#9a9a9a"/>
<rect x="451" y="693" width="1" height="1" fill="#9a9a9a"/>
<rect x="457" y="710" width="1" height="1" fill="#9a9a9a"/>
<rect x="571" y="687" width="1" height="1" fill="#9a9a9a"/>
<rect x="620" y="687" width="1" height="1" fill="#9a9a9a"/>
<rect x="498" y="711" width="1" height="1" fill="#9a9a9a"/>
<rect x="584" y="704" width="1" height="1" fill="#9a9a9a"/>
<rect x="509" y="689" width="1" height="1" fill="#9a9a9a"/>
<rect x="551" y="687" width="1" height="1" fill="#9a9a9a"/>
<rect x="461" y="695" width="1" height="1" fill="#9a9a9a"/>
<rect x="425" y="695" width="1" height="1" fill="#9a9a9a"/>
<rect x="584" y="703" width="1" height="1" fill="#9a9a9a"/>
<rect x="523" y="701" width="1" height="1" fill="#9a9a9a"/>
<rect x="515" y="688" width="1" height="1" fill="#9a9a9a"/>
<rect x="544" y="695" width="1" height="1" fill="#9a9a9a"/>
<rect x="573" y="709" width="1" height="1" fill="#9a9a9a"/>
<rect x="508" y="700" width="1" height="1" fill="#9a9a9a"/>
<rect x="575" y="695" width="1" height="1" fill="#9a9a9a"/>
<rect x="465" y="704" width="1" height="1" fill="#9a9a9a"/>
<rect x="602" y="705" width="1" height="1" fill="#9a9a9a"/>
<rect x="565" y="707" width="1" height="1" fill="#9a9a9a"/>
<rect x="560" y="701" width="1" height="1" fill="#9a9a9a"/>
<rect x="513" y="693" width="1" height="1" fill="#9a9a9a"/>
<rect x="549" y="687" width="1" height="1" fill="#9a9a9a"/>
<rect x="506" y="705" width="1" height="1" fill="#9a9a9a"/>
<rect x="567" y="701" width="1" height="1" fill="#9a9a9a"/>
<rect x="470" y="696" width="1" height="1" fill="#9a9a9a"/>
<rect x="513" y="701" width="1" height="1" fill="#9a9a9a"/>
<rect x="503" y="702" width="1" height="1" fill="#9a9a9a"/>
<rect x="613" y="689" width="1" height="1" fill="#9a9a9a"/>
<rect x="555" y="705" width="1" height="1" fill="#9a9a9a"/>
<rect x="499" y="697" width="1" height="1" fill="#9a9a9a"/>
<rect x="622" y="685" width="1" height="1" fill="#9a9a9a"/>
<rect x="532" y="689" width="1" height="1" fill="#9a9a9a"/>
<rect x="582" y="709" width="1" height="1" fill="#9a9a9a"/>
<rect x="527" y="687" width="1" height="1" fill="#9a9a9a"/>
<rect x="538" y="699" width="1" height="1" fill="#9a9a9a"/>
<rect x="568" y="698" width="1" height="1" fill="#9a9a9a"/>
<rect x="552" y="706" width="1" height="1" fill="#9a9a9a"/>
<rect x="527" y="695" width="1" height="1" fill="#9a9a9a"/>
<rect x="617" y="690" width="1" height="1" fill="#9a9a9a"/>
<rect x="561" y="695" width="1" height="1" fill="#9a9a9a"/>
<rect x="578" y="687" width="1" height="1" fill="#9a9a9a"/>
<rect x="624" y="694" width="1" height="1" fill="#9a9a9a"/>
<rect x="429" y="692" width="1" height="1" fill="#9a9a9a"/>
<rect x="501" y="685" width="1" height="1" fill="#9a9a9a"/>
<rect x="505" y="695" width="1" height="1" fill="#9a9a9a"/>
<rect x="564" y="694" width="1" height="1" fill="#9a9a9a"/>
<rect x="473" y="690" width="1" height="1" fill="#9a9a9a"/>
<rect x="573" y="709" width="1" height="1" fill="#9a9a9a"/>
<rect x="528" y="690" width="1" height="1" fill="#9a9a9a"/>
<rect x="586" y="695" width="1" height="1" fill="#9a9a9a"/>
<rect x="462" y="688" width="1" height="1" fill="#9a9a9a"/>
<rect x="581" y="706" width="1" height="1" fill="#9a9a9a"/>
<rect x="551" y="697" width="1" height="1" fill="#9a9a9a"/>
<rect x="536" y="690" width="1" height="1" fill="#9a9a9a"/>
<rect x="620" y="694" width="1" height="1" fill="#9a9a9a"/>
<rect x="552" y="706" width="1" height="1" fill="#9a9a9a"/>
<rect x="589" y="697" width="1" height="1" fill="#9a9a9a"/>
<rect x="479" y="699" width="1" height="1" fill="#9a9a9a"/>
<rect x="444" y="707" width="1" height="1" fill="#9a9a9a"/>
<rect x="492" y="707" width="1" height="1" fill="#9a9a9a"/>
<rect x="474" y="694" width="1" height="1" fill="#9a9a9a"/>
<rect x="471" y="696" width="1" height="1" fill="#9a9a9a"/>
<rect x="457" y="684" width="1" height="1" fill="#9a9a9a"/>
<rect x="569" y="692" width="1" height="1" fill="#9a9a9a"/>
<rect x="469" y="692" width="1" height="1" fill="#9a9a9a"/>
<rect x="518" y="696" width="1" height="1" fill="#9a9a9a"/>
<rect x="551" y="702" width="1" height="1" fill="#9a9a9a"/>
<rect x="494" y="709" width="1" height="1" fill="#9a9a9a"/>
<rect x="597" y="686" width="1" height="1" fill="#9a9a9a"/>
<rect x="591" y="708" width="1" height="1" fill="#9a9a9a"/>
<rect x="582" y="688" width="1" height="1" fill="#9a9a9a"/>
<rect x="592" y="701" width="1" height="1" fill="#9a9a9a"/>
<rect x="421" y="685" width="1" height="1" fill="#9a9a9a"/>
<rect x="617" y="702" width="1" height="1" fill="#9a9a9a"/>
<rect x="470" y="687" width="1" height="1" fill="#9a9a9a"/>
<rect x="447" y="690" width="1" height="1" fill="#9a9a9a"/>
<rect x="581" y="693" width="1" height="1" fill="#9a9a9a"/>
<rect x="450" y="708" width="1" height="1" fill="#9a9a9a"/>
<rect x="584" y="689" width="1" height="1" fill="#9a9a9a"/>
<rect x="605" y="701" width="1" height="1" fill="#9a9a9a"/>
<rect x="582" y="702" width="1" height="1" fill="#9a9a9a"/>
<rect x="605" y="705" width="1" height="1" fill="#9a9a9a"/>
<rect x="594" y="689" width="1" height="1" fill="#9a9a9a"/>
<rect x="563" y="698" width="1" height="1" fill="#9a9a9a"/>
<rect x="573" y="696" width="1" height="1" fill="#9a9a9a"/>
<rect x="603" y="699" width="1" height="1" fill="#9a9a9a"/>
<rect x="473" y="690" width="1" height="1" fill="#9a9a9a"/>
<rect x="447" y="697" width="1" height="1" fill="#9a9a9a"/>
<rect x="430" y="697" width="1" height="1" fill="#9a9a9a"/>
<rect x="448" y="697" width="1" height="1" fill="#9a9a9a"/>
<rect x="522" y="699" width="1" height="1" fill="#9a9a9a"/>
<rect x="599" y="684" width="1" height="1" fill="#9a9a9a"/>
<rect x="594" y="697" width="1" height="1" fill="#9a9a9a"/>
<rect x="536" y="702" width="1" height="1" fill="#9a9a9a"/>
<rect x="594" y="694" width="1" height="1" fill="#9a9a9a"/>
<rect x="505" y="710" width="1" height="1" fill="#9a9a9a"/>
<rect x="433" y="701" width="1" height="1" fill="#9a9a9a"/>
<rect x="551" y="685" width="1" height="1" fill="#9a9a9a"/>
<rect x="546" y="702" width="1" height="1" fill="#9a9a9a"/>
<rect x="613" y="693" width="1" height="1" fill="#9a9a9a"/>
<rect x="624" y="698" width="1" height="1" fill="#9a9a9a"/>
<rect x="519" y="708" width="1" height="1" fill="#9a9a9a"/>
<rect x="425" y="703" width="1" height="1" fill="#9a9a9a"/>
<rect x="549" y="693" width="1" height="1" fill="#9a9a9a"/>
<rect x="598" y="694" width="1" height="1" fill="#9a9a9a"/>
<rect x="517" y="698" width="1" height="1" fill="#9a9a9a"/>
<rect x="579" y="690" width="1" height="1" fill="#9a9a9a"/>
<rect x="509" y="696" width="1" height="1" fill="#9a9a9a"/>
<rect x="534" y="706" width="1" height="1" fill="#9a9a9a"/>
<rect x="479" y="706" width="1" height="1" fill="#9a9a9a"/>
<rect x="502" y="698" width="1" height="1" fill="#9a9a9a"/>
<rect x="475" y="698" width="1" height="1" fill="#9a9a9a"/>
<rect x="622" y="702" width="1" height="1" fill="#9a9a9a"/>
<rect x="584" y="693" width="1" height="1" fill="#9a9a9a"/>
<rect x="484" y="692" width="1" height="1" fill="#9a9a9a"/>
<rect x="541" y="701" width="1" height="1" fill="#9a9a9a"/>
<rect x="582" y="685" width="1" height="1" fill="#9a9a9a"/>
<rect x="417.5" y="729.8" width="2" height="0.2" fill="#b8b8b8"/>
<rect x="417.5" y="751.0" width="2" height="0.0" fill="#c3c3c3"/>
<rect x="419.5" y="725.4" width="2" height="4.6" fill="#b8b8b8"/>
<rect x="427.5" y="746.9" width="2" height="4.1" fill="#c3c3c3"/>
<rect x="429.5" y="726.7" width="2" height="3.3" fill="#b8b8b8"/>
<rect x="429.5" y="746.4" width="2" height="4.6" fill="#c3c3c3"/>
<rect x="431.5" y="729.1" width="2" height="0.9" fill="#b8b8b8"/>
<rect x="431.5" y="746.4" width="2" height="4.6" fill="#c3c3c3"/>
<rect x="435.5" y="725.9" width="2" height="4.1" fill="#b8b8b8"/>
<rect x="437.5" y="728.7" width="2" height="1.3" fill="#b8b8b8"/>
<rect x="437.5" y="748.5" width="2" height="2.5" fill="#c3c3c3"/>
<rect x="439.5" y="727.8" width="2" height="2.2" fill="#b8b8b8"/>
<rect x="441.5" y="747.6" width="2" height="3.4" fill="#c3c3c3"/>
<rect x="443.5" y="729.4" width="2" height="0.6" fill="#b8b8b8"/>
<rect x="445.5" y="725.4" width="2" height="4.6" fill="#b8b8b8"/>
<rect x="445.5" y="750.9" width="2" height="0.1" fill="#c3c3c3"/>
<rect x="447.5" y="727.0" width="2" height="3.0" fill="#b8b8b8"/>
<rect x="449.5" y="748.5" width="2" height="2.5" fill="#c3c3c3"/>
<rect x="451.5" y="726.8" width="2" height="3.2" fill="#b8b8b8"/>
<rect x="451.5" y="750.1" width="2" height="0.9" fill="#c3c3c3"/>
<rect x="453.5" y="730.0" width="2" height="0.0" fill="#b8b8b8"/>
<rect x="455.5" y="725.2" width="2" height="4.8" fill="#b8b8b8"/>
<rect x="455.5" y="745.8" width="2" height="5.2" fill="#c3c3c3"/>
<rect x="457.5" y="729.9" width="2" height="0.1" fill="#b8b8b8"/>
<rect x="459.5" y="726.3" width="2" height="3.7" fill="#b8b8b8"/>
<rect x="459.5" y="750.7" width="2" height="0.3" fill="#c3c3c3"/>
<rect x="465.5" y="726.9" width="2" height="3.1" fill="#b8b8b8"/>
<rect x="467.5" y="725.3" width="2" height="4.7" fill="#b8b8b8"/>
<rect x="467.5" y="745.2" width="2" height="5.8" fill="#c3c3c3"/>
<rect x="469.5" y="750.9" width="2" height="0.1" fill="#c3c3c3"/>
<rect x="473.5" y="728.4" width="2" height="1.6" fill="#b8b8b8"/>
<rect x="475.5" y="725.7" width="2" height="4.3" fill="#b8b8b8"/>
<rect x="475.5" y="750.6" width="2" height="0.4" fill="#c3c3c3"/>
<rect x="477.5" y="727.1" width="2" height="2.9" fill="#b8b8b8"/>
<rect x="477.5" y="746.9" width="2" height="4.1" fill="#c3c3c3"/>
<rect x="479.5" y="726.0" width="2" height="4.0" fill="#b8b8b8"/>
<rect x="479.5" y="747.1" width="2" height="3.9" fill="#c3c3c3"/>
<rect x="481.5" y="748.7" width="2" height="2.3" fill="#c3c3c3"/>
<rect x="485.5" y="749.2" width="2" height="1.8" fill="#c3c3c3"/>
<rect x="487.5" y="725.1" width="2" height="4.9" fill="#b8b8b8"/>
<rect x="489.5" y="747.4" width="2" height="3.6" fill="#c3c3c3"/>
<rect x="493.5" y="748.4" width="2" height="2.6" fill="#c3c3c3"/>
<rect x="495.5" y="746.9" width="2" height="4.1" fill="#c3c3c3"/>
<rect x="499.5" y="751.0" width="2" height="0.0" fill="#c3c3c3"/>
<rect x="501.5" y="727.9" width="2" height="2.1" fill="#b8b8b8"/>
<rect x="501.5" y="746.1" width="2" height="4.9" fill="#c3c3c3"/>
<rect x="503.5" y="746.0" width="2" height="5.0" fill="#c3c3c3"/>
<rect x="507.5" y="728.6" width="2" height="1.4" fill="#b8b8b8"/>
<rect x="511.5" y="750.5" width="2" height="0.5" fill="#c3c3c3"/>
<rect x="513.5" y="726.0" width="2" height="4.0" fill="#b8b8b8"/>
<rect x="513.5" y="746.5" width="2" height="4.5" fill="#c3c3c3"/>
<rect x="515.5" y="747.4" width="2" height="3.6" fill="#c3c3c3"/>
<rect x="517.5" y="749.8" width="2" height="1.2" fill="#c3c3c3"/>
<rect x="519.5" y="726.2" width="2" height="3.8" fill="#b8b8b8"/>
<rect x="521.5" y="729.6" width="2" height="0.4" fill="#b8b8b8"/>
<rect x="523.5" y="747.5" width="2" height="3.5" fill="#c3c3c3"/>
<rect x="527.5" y="727.6" width="2" height="2.4" fill="#b8b8b8"/>
<rect x="527.5" y="749.9" width="2" height="1.1" fill="#c3c3c3"/>
<rect x="529.5" y="729.1" width="2" height="0.9" fill="#b8b8b8"/>
<rect x="531.5" y="727.2" width="2" height="2.8" fill="#b8b8b8"/>
<rect x="531.5" y="747.9" width="2" height="3.1" fill="#c3c3c3"/>
<rect x="533.5" y="729.8" width="2" height="0.2" fill="#b8b8b8"/>
<rect x="535.5" y="729.5" width="2" height="0.5" fill="#b8b8b8"/>
<rect x="537.5" y="747.4" width="2" height="3.6" fill="#c3c3c3"/>
<rect x="539.5" y="727.4" width="2" height="2.6" fill="#b8b8b8"/>
<rect x="539.5" y="750.8" width="2" height="0.2" fill="#c3c3c3"/>
<rect x="543.5" y="727.2" width="2" height="2.8" fill="#b8b8b8"/>
<rect x="543.5" y="746.3" width="2" height="4.7" fill="#c3c3c3"/>
<rect x="545.5" y="725.3" width="2" height="4.7" fill="#b8b8b8"/>
<rect x="549.5" y="729.8" width="2" height="0.2" fill="#b8b8b8"/>
<rect x="549.5" y="749.9" width="2" height="1.1" fill="#c3c3c3"/>
<rect x="551.5" y="729.7" width="2" height="0.3" fill="#b8b8b8"/>
<rect x="551.5" y="745.8" width="2" height="5.2" fill="#c3c3c3"/>
<rect x="553.5" y="725.3" width="2" height="4.7" fill="#b8b8b8"/>
<rect x="555.5" y="727.0" width="2" height="3.0" fill="#b8b8b8"/>
<rect x="555.5" y="750.3" width="2" height="0.7" fill="#c3c3c3"/>
<rect x="557.5" y="747.6" width="2" height="3.4" fill="#c3c3c3"/>
<rect x="561.5" y="748.3" width="2" height="2.7" fill="#c3c3c3"/>
<rect x="563.5" y="725.2" width="2" height="4.8" fill="#b8b8b8"/>
<rect x="565.5" y="729.8" width="2" height="0.2" fill="#b8b8b8"/>
<rect x="565.5" y="748.9" width="2" height="2.1" fill="#c3c3c3"/>
<rect x="569.5" y="746.3" width="2" height="4.7" fill="#c3c3c3"/>
<rect x="573.5" y="750.1" width="2" height="0.9" fill="#c3c3c3"/>
<rect x="577.5" y="747.5" width="2" height="3.5" fill="#c3c3c3"/>
<rect x="579.5" y="749.1" width="2" height="1.9" fill="#c3c3c3"/>
<rect x="581.5" y="729.4" width="2" height="0.6" fill="#b8b8b8"/>
<rect x="581.5" y="750.0" width="2" height="1.0" fill="#c3c3c3"/>
<rect x="583.5" y="729.3" width="2" height="0.7" fill="#b8b8b8"/>
<rect x="585.5" y="726.4" width="2" height="3.6" fill="#b8b8b8"/>
<rect x="585.5" y="750.8" width="2" height="0.2" fill="#c3c3c3"/>
<rect x="587.5" y="745.4" width="2" height="5.6" fill="#c3c3c3"/>
<rect x="591.5" y="727.8" width="2" height="2.2" fill="#b8b8b8"/>
<rect x="591.5" y="745.4" width="2" height="5.6" fill="#c3c3c3"/>
<rect x="595.5" y="728.3" width="2" height="1.7" fill="#b8b8b8"/>
<rect x="597.5" y="726.9" width="2" height="3.1" fill="#b8b8b8"/>
<rect x="597.5" y="749.7" width="2" height="1.3" fill="#c3c3c3"/>
<rect x="599.5" y="726.4" width="2" height="3.6" fill="#b8b8b8"/>
<rect x="599.5" y="750.1" width="2" height="0.9" fill="#c3c3c3"/>
<rect x="601.5" y="748.5" width="2" height="2.5" fill="#c3c3c3"/>
<rect x="603.5" y="728.6" width="2" height="1.4" fill="#b8b8b8"/>
<rect x="605.5" y="729.2" width="2" height="0.8" fill="#b8b8b8"/>
<rect x="605.5" y="749.1" width="2" height="1.9" fill="#c3c3c3"/>
<rect x="607.5" y="745.1" width="2" height="5.9" fill="#c3c3c3"/>
<rect x="609.5" y="725.5" width="2" height="4.5" fill="#b8b8b8"/>
<rect x="611.5" y="727.6" width="2" height="2.4" fill="#b8b8b8"/>
<rect x="611.5" y="749.5" width="2" height="1.5" fill="#c3c3c3"/>
<rect x="613.5" y="728.2" width="2" height="1.8" fill="#b8b8b8"/>
<rect x="617.5" y="728.6" width="2" height="1.4" fill="#b8b8b8"/>
<rect x="619.5" y="726.4" width="2" height="3.6" fill="#b8b8b8"/>
<rect x="619.5" y="745.1" width="2" height="5.9" fill="#c3c3c3"/>
<rect x="621.5" y="726.0" width="2" height="4.0" fill="#b8b8b8"/>
<rect x="621.5" y="750.2" width="2" height="0.8" fill="#c3c3c3"/>
<rect x="623.5" y="725.8" width="2" height="4.2" fill="#b8b8b8"/>
<rect x="623.5" y="749.9" width="2" height="1.1" fill="#c3c3c3"/>
<rect x="625.5" y="725.4" width="2" height="4.6" fill="#b8b8b8"/>
<rect x="625.5" y="747.6" width="2" height="3.4" fill="#c3c3c3"/>
<rect x="627.5" y="729.1" width="2" height="0.9" fill="#b8b8b8"/>
<path d="M436.2,683 L477.2,683 L477,703 L470,706 L462,705 L452,707 L444,705 L436.2,704 Z" fill="#a2a2a2"/>
<rect x="440" y="726" width="30" height="12" fill="#b0b0b0"/>
<path d="M439,742 L468,742 L466,800 L464,840 L460,880 L426,880 L430,840 L433,800 Z" fill="#b4b4b4" filter="url(#bl2)" opacity="0.8"/>
<line x1="497" y1="718" x2="497.5" y2="902" stroke="#dadada" stroke-width="1" opacity="0.45"/>
<polygon points="474,786 478,776 486,770 494,765 502,768 510,772 518,780 521,786" fill="#b3b3b3" filter="url(#bl3)"/>
<polygon points="526,786 532,777 540,772 550,766 558,770 566,778 570,786" fill="#b3b3b3" filter="url(#bl3)"/>
<polygon points="575,786 580,776 590,770 600,768 610,772 619,780 620,786" fill="#b3b3b3" filter="url(#bl3)"/>
<line x1="468" y1="779.5" x2="629" y2="777.8" stroke="#8a8a8a" stroke-width="1" opacity="0.7"/>
<rect x="474.5" y="781.1" width="45.5" height="7.6" rx="3.8" fill="#080808"/>
<rect x="526.8" y="781.7" width="42.9" height="7" rx="3.5" fill="#080808"/>
<path d="M579,780 L613,779.3 Q616,777 619,778.5 Q620.5,781 619.5,784 Q618,786.8 612,786.8 L580,787.4 Q575.8,787.4 575.9,783.7 Q576,780 579,780 Z" fill="#080808"/>
<rect x="530" y="797" width="38" height="1.8" fill="#a0a0a0" filter="url(#bl1)"/>
<path d="M444.8,708.3 Q456.05,706.8 467.3,708.6" fill="none" stroke="#1e1e1e" stroke-width="1.7"/>
<rect x="440" y="747.3" width="27.30000000000001" height="2.4" rx="1.2" fill="#3a3a3a" filter="url(#bl0)"/>
<rect x="439" y="764.0" width="28" height="5.3" rx="2.6" fill="#080808" filter="url(#bl1)"/>
<rect x="437" y="781.3" width="29" height="3.6" rx="1.8" fill="#2e2e2e" filter="url(#bl1)"/>
<rect x="435" y="793.5" width="31" height="5.6" rx="2.8" fill="#707070" filter="url(#bl3)"/>
<rect x="434" y="804.9" width="32" height="5.6" rx="2.8" fill="#787878" filter="url(#bl3)"/>
<rect x="432" y="818.8" width="33" height="6.8" rx="3.4" fill="#1a1a1a" filter="url(#bl3)"/>
<rect x="431" y="830.0" width="33" height="4.2" rx="2.1" fill="#4a4a4a" filter="url(#bl3)"/>
<rect x="429" y="850.7" width="32" height="3.8" rx="1.9" fill="#525252" filter="url(#bl3)"/>
<rect x="426" y="869.0" width="32" height="3.8" rx="1.9" fill="#707070" filter="url(#bl3)"/>
<line x1="574.2" y1="857.4" x2="628.3" y2="851.3" stroke="#1a1a1a" stroke-width="1.8"/>
<rect x="566.9" y="727.1" width="1" height="1" fill="#8c8c8c"/>
<rect x="577.4" y="722.5" width="1" height="1" fill="#999"/>
<rect x="539.9" y="728.4" width="1" height="1" fill="#777"/>
<rect x="594.1" y="884.2" width="1" height="1" fill="#a6a6a6"/>
<rect x="521.0" y="687.6" width="1" height="1" fill="#a0a0a0"/>
<rect x="445.5" y="829.5" width="1" height="1" fill="#a6a6a6"/>
<rect x="620.9" y="699.8" width="1" height="1" fill="#777"/>
<rect x="484.9" y="839.5" width="1" height="1" fill="#999"/>
<rect x="478.7" y="707.7" width="1" height="1" fill="#a0a0a0"/>
<rect x="511.3" y="689.8" width="1" height="1" fill="#999"/>
<rect x="421.8" y="895.4" width="1" height="1" fill="#8a8a8a"/>
<rect x="618.1" y="688.4" width="1" height="1" fill="#999"/>
<rect x="514.9" y="736.2" width="1" height="1" fill="#a6a6a6"/>
<rect x="600.1" y="840.7" width="1" height="1" fill="#999"/>
<rect x="440.6" y="710.7" width="1" height="1" fill="#999"/>
<rect x="531.2" y="733.8" width="1" height="1" fill="#777"/>
<rect x="574.3" y="720.1" width="1" height="1" fill="#8c8c8c"/>
<rect x="614.4" y="769.1" width="1" height="1" fill="#999"/>
<rect x="488.6" y="736.7" width="1" height="1" fill="#777"/>
<rect x="485.7" y="716.2" width="1" height="1" fill="#777"/>
<rect x="494.0" y="800.1" width="1" height="1" fill="#777"/>
<rect x="459.7" y="830.3" width="1" height="1" fill="#777"/>
<rect x="603.3" y="691.7" width="1" height="1" fill="#777"/>
<rect x="586.8" y="692.0" width="1" height="1" fill="#8c8c8c"/>
<rect x="470.1" y="797.8" width="1" height="1" fill="#999"/>
<rect x="525.4" y="742.8" width="1" height="1" fill="#8a8a8a"/>
<rect x="609.8" y="810.2" width="1" height="1" fill="#999"/>
<rect x="573.0" y="746.9" width="1" height="1" fill="#8a8a8a"/>
<rect x="516.0" y="752.0" width="1" height="1" fill="#8a8a8a"/>
<rect x="500.8" y="886.0" width="1" height="1" fill="#8a8a8a"/>
<rect x="485.5" y="755.3" width="1" height="1" fill="#8a8a8a"/>
<rect x="479.6" y="852.8" width="1" height="1" fill="#999"/>
<rect x="526.1" y="866.3" width="1" height="1" fill="#999"/>
<rect x="475.6" y="867.3" width="1" height="1" fill="#777"/>
<rect x="565.2" y="774.4" width="1" height="1" fill="#777"/>
<rect x="578.3" y="812.1" width="1" height="1" fill="#8a8a8a"/>
<rect x="545.0" y="767.1" width="1" height="1" fill="#777"/>
<rect x="478.0" y="761.2" width="1" height="1" fill="#777"/>
<rect x="553.6" y="685.7" width="1" height="1" fill="#a0a0a0"/>
<rect x="497.4" y="749.7" width="1" height="1" fill="#8a8a8a"/>
<rect x="509.0" y="766.5" width="1" height="1" fill="#a6a6a6"/>
<rect x="618.8" y="728.8" width="1" height="1" fill="#999"/>
<rect x="480.5" y="801.3" width="1" height="1" fill="#777"/>
<rect x="527.8" y="705.8" width="1" height="1" fill="#777"/>
<rect x="449.9" y="725.3" width="1" height="1" fill="#a0a0a0"/>
<rect x="626.7" y="759.1" width="1" height="1" fill="#999"/>
<rect x="591.0" y="796.1" width="1" height="1" fill="#a6a6a6"/>
<rect x="604.0" y="776.1" width="1" height="1" fill="#a6a6a6"/>
<rect x="504.1" y="697.3" width="1" height="1" fill="#8c8c8c"/>
<rect x="481.9" y="835.0" width="1" height="1" fill="#a6a6a6"/>
<rect x="501.0" y="705.7" width="1" height="1" fill="#8c8c8c"/>
<rect x="557.8" y="727.1" width="1" height="1" fill="#a0a0a0"/>
<rect x="605.6" y="796.5" width="1" height="1" fill="#8a8a8a"/>
<rect x="503.8" y="710.7" width="1" height="1" fill="#999"/>
<rect x="526.4" y="795.4" width="1" height="1" fill="#999"/>
<rect x="546.2" y="860.3" width="1" height="1" fill="#999"/>
<rect x="561.3" y="810.6" width="1" height="1" fill="#8a8a8a"/>
<rect x="491.8" y="721.2" width="1" height="1" fill="#777"/>
<rect x="430.7" y="726.0" width="1" height="1" fill="#a0a0a0"/>
<rect x="421.6" y="732.2" width="1" height="1" fill="#999"/>
<rect x="509.8" y="819.6" width="1" height="1" fill="#999"/>
<rect x="451.0" y="812.3" width="1" height="1" fill="#999"/>
<rect x="606.3" y="862.3" width="1" height="1" fill="#a6a6a6"/>
<rect x="519.2" y="857.3" width="1" height="1" fill="#8a8a8a"/>
<rect x="453.2" y="766.9" width="1" height="1" fill="#a6a6a6"/>
<rect x="500.7" y="763.4" width="1" height="1" fill="#777"/>
<rect x="498.8" y="786.1" width="1" height="1" fill="#777"/>
<rect x="424.8" y="829.2" width="1" height="1" fill="#8a8a8a"/>
<rect x="468.3" y="712.5" width="1" height="1" fill="#999"/>
<rect x="474.1" y="866.5" width="1" height="1" fill="#777"/>
<rect x="515.6" y="857.7" width="1" height="1" fill="#a6a6a6"/>
<rect x="491.6" y="841.9" width="1" height="1" fill="#8a8a8a"/>
<rect x="479.9" y="788.1" width="1" height="1" fill="#777"/>
<rect x="529.8" y="772.4" width="1" height="1" fill="#8a8a8a"/>
<rect x="600.7" y="711.0" width="1" height="1" fill="#8c8c8c"/>
<rect x="482.8" y="769.3" width="1" height="1" fill="#8a8a8a"/>
<rect x="580.5" y="734.8" width="1" height="1" fill="#999"/>
<rect x="576.8" y="726.3" width="1" height="1" fill="#777"/>
<rect x="598.8" y="888.7" width="1" height="1" fill="#a6a6a6"/>
<rect x="560.2" y="829.1" width="1" height="1" fill="#777"/>
<rect x="422.8" y="837.8" width="1" height="1" fill="#777"/>
<rect x="491.4" y="821.5" width="1" height="1" fill="#999"/>
<rect x="474.4" y="817.1" width="1" height="1" fill="#999"/>
<rect x="502.5" y="817.0" width="1" height="1" fill="#a6a6a6"/>
<rect x="465.3" y="792.9" width="1" height="1" fill="#777"/>
<rect x="490.1" y="883.6" width="1" height="1" fill="#777"/>
<rect x="627.1" y="818.5" width="1" height="1" fill="#999"/>
<rect x="490.8" y="891.5" width="1" height="1" fill="#a6a6a6"/>
<rect x="549.4" y="783.0" width="1" height="1" fill="#8a8a8a"/>
<rect x="444.3" y="850.5" width="1" height="1" fill="#a6a6a6"/>
<rect x="454.2" y="719.9" width="1" height="1" fill="#999"/>
<rect x="531.7" y="738.7" width="1" height="1" fill="#a6a6a6"/>
<rect x="490.4" y="704.4" width="1" height="1" fill="#777"/>
<rect x="446.3" y="834.0" width="1" height="1" fill="#777"/>
<rect x="467.5" y="737.0" width="1" height="1" fill="#777"/>
<rect x="468.1" y="821.6" width="1" height="1" fill="#777"/>
<rect x="577.2" y="721.1" width="1" height="1" fill="#999"/>
<rect x="592.0" y="709.2" width="1" height="1" fill="#777"/>
<rect x="420.1" y="790.4" width="1" height="1" fill="#a6a6a6"/>
<rect x="481.3" y="708.3" width="1" height="1" fill="#777"/>
<rect x="511.6" y="708.9" width="1" height="1" fill="#777"/>
<rect x="511.0" y="808.5" width="1" height="1" fill="#999"/>
<rect x="519.5" y="847.3" width="1" height="1" fill="#a6a6a6"/>
<rect x="440.3" y="790.9" width="1" height="1" fill="#8a8a8a"/>
<rect x="582.1" y="754.5" width="1" height="1" fill="#999"/>
<rect x="554.5" y="739.1" width="1" height="1" fill="#8a8a8a"/>
<rect x="574.5" y="689.7" width="1" height="1" fill="#a0a0a0"/>
<rect x="593.8" y="748.9" width="1" height="1" fill="#8a8a8a"/>
<rect x="439.0" y="841.1" width="1" height="1" fill="#a6a6a6"/>
<rect x="497.2" y="825.5" width="1" height="1" fill="#8a8a8a"/>
<rect x="494.9" y="804.5" width="1" height="1" fill="#a6a6a6"/>
<rect x="467.8" y="693.2" width="1" height="1" fill="#a0a0a0"/>
<rect x="607.6" y="890.5" width="1" height="1" fill="#777"/>
<rect x="549.1" y="715.2" width="1" height="1" fill="#999"/>
<rect x="436.3" y="692.9" width="1" height="1" fill="#a0a0a0"/>
<rect x="518.2" y="731.8" width="1" height="1" fill="#999"/>
<rect x="525.6" y="776.1" width="1" height="1" fill="#777"/>
<rect x="419.3" y="892.9" width="1" height="1" fill="#8a8a8a"/>
<rect x="497.1" y="685.1" width="1" height="1" fill="#777"/>
<rect x="536.7" y="786.5" width="1" height="1" fill="#777"/>
<rect x="446.2" y="873.1" width="1" height="1" fill="#999"/>
<rect x="562.7" y="716.3" width="1" height="1" fill="#777"/>
<rect x="534.0" y="890.1" width="1" height="1" fill="#8a8a8a"/>
<rect x="536.1" y="770.7" width="1" height="1" fill="#8a8a8a"/>
<rect x="465.2" y="784.2" width="1" height="1" fill="#999"/>
<rect x="445.7" y="794.0" width="1" height="1" fill="#999"/>
<rect x="549.1" y="893.9" width="1" height="1" fill="#777"/>
<rect x="591.8" y="769.8" width="1" height="1" fill="#8a8a8a"/>
<rect x="535.7" y="853.4" width="1" height="1" fill="#999"/>
<rect x="502.4" y="694.5" width="1" height="1" fill="#8c8c8c"/>
<rect x="420.7" y="813.9" width="1" height="1" fill="#a6a6a6"/>
<rect x="442.8" y="713.8" width="1" height="1" fill="#8c8c8c"/>
<rect x="610.2" y="874.3" width="1" height="1" fill="#a6a6a6"/>
<rect x="586.4" y="844.9" width="1" height="1" fill="#a6a6a6"/>
<rect x="616.6" y="841.8" width="1" height="1" fill="#a6a6a6"/>
<rect x="471.0" y="726.4" width="1" height="1" fill="#a0a0a0"/>
<rect x="422.0" y="900.0" width="1" height="1" fill="#999"/>
<rect x="520.0" y="700.3" width="1" height="1" fill="#777"/>
<rect x="456.4" y="805.2" width="1" height="1" fill="#777"/>
<rect x="593.1" y="812.6" width="1" height="1" fill="#a6a6a6"/>
<rect x="616.7" y="687.2" width="1" height="1" fill="#777"/>
<rect x="626.3" y="790.5" width="1" height="1" fill="#999"/>
<rect x="585.6" y="691.9" width="1" height="1" fill="#999"/>
<rect x="526.1" y="763.0" width="1" height="1" fill="#a6a6a6"/>
<rect x="605.2" y="812.8" width="1" height="1" fill="#8a8a8a"/>
<rect x="589.5" y="843.0" width="1" height="1" fill="#777"/>
<rect x="499.0" y="761.4" width="1" height="1" fill="#777"/>
<rect x="487.6" y="688.7" width="1" height="1" fill="#a0a0a0"/>
<rect x="570.2" y="715.6" width="1" height="1" fill="#a0a0a0"/>
<rect x="474.9" y="793.4" width="1" height="1" fill="#8a8a8a"/>
<rect x="625.9" y="691.6" width="1" height="1" fill="#8c8c8c"/>
<rect x="550.8" y="763.4" width="1" height="1" fill="#8a8a8a"/>
<rect x="524.4" y="822.9" width="1" height="1" fill="#777"/>
<rect x="603.1" y="855.0" width="1" height="1" fill="#8a8a8a"/>
<rect x="587.4" y="901.8" width="1" height="1" fill="#8a8a8a"/>
<rect x="419.0" y="874.3" width="1" height="1" fill="#777"/>
<rect x="540.7" y="715.6" width="1" height="1" fill="#777"/>
<rect x="620.3" y="700.2" width="1" height="1" fill="#999"/>
<rect x="540.0" y="701.7" width="1" height="1" fill="#999"/>
<rect x="481.4" y="761.4" width="1" height="1" fill="#777"/>
<rect x="484.5" y="722.5" width="1" height="1" fill="#777"/>
<rect x="467.2" y="688.6" width="1" height="1" fill="#8c8c8c"/>
<rect x="501.4" y="727.9" width="1" height="1" fill="#777"/>
<rect x="599.0" y="825.7" width="1" height="1" fill="#999"/>
<rect x="619.8" y="815.4" width="1" height="1" fill="#a6a6a6"/>
<rect x="568.5" y="685.3" width="1" height="1" fill="#777"/>
<rect x="611.3" y="730.5" width="1" height="1" fill="#999"/>
<rect x="488.4" y="696.7" width="1" height="1" fill="#a0a0a0"/>
<rect x="584.7" y="703.2" width="1" height="1" fill="#777"/>
<rect x="580.5" y="899.8" width="1" height="1" fill="#777"/>
<rect x="600.9" y="689.8" width="1" height="1" fill="#777"/>
<rect x="536.0" y="899.8" width="1" height="1" fill="#a6a6a6"/>
<rect x="450.4" y="688.3" width="1" height="1" fill="#999"/>
<rect x="447.5" y="851.7" width="1" height="1" fill="#a6a6a6"/>
<rect x="487.0" y="846.0" width="1" height="1" fill="#777"/>
<rect x="577.8" y="853.6" width="1" height="1" fill="#777"/>
<rect x="535.0" y="763.1" width="1" height="1" fill="#a6a6a6"/>
<rect x="445.2" y="686.2" width="1" height="1" fill="#a0a0a0"/>
<rect x="449.1" y="821.5" width="1" height="1" fill="#999"/>
<rect x="614.3" y="820.6" width="1" height="1" fill="#8a8a8a"/>
<rect x="534.1" y="723.9" width="1" height="1" fill="#777"/>
<rect x="597.2" y="854.3" width="1" height="1" fill="#a6a6a6"/>
<rect x="522.3" y="823.1" width="1" height="1" fill="#777"/>
<rect x="440.1" y="844.3" width="1" height="1" fill="#777"/>
<rect x="559.1" y="760.8" width="1" height="1" fill="#777"/>
<rect x="549.2" y="733.1" width="1" height="1" fill="#a6a6a6"/>
<rect x="566.4" y="737.0" width="1" height="1" fill="#a6a6a6"/>
<rect x="576.9" y="824.5" width="1" height="1" fill="#777"/>
<rect x="463.0" y="808.5" width="1" height="1" fill="#a6a6a6"/>
<rect x="617.9" y="714.0" width="1" height="1" fill="#777"/>
<rect x="476.8" y="756.6" width="1" height="1" fill="#8a8a8a"/>
<rect x="461.6" y="877.1" width="1" height="1" fill="#777"/>
<rect x="480.0" y="689.5" width="1" height="1" fill="#8c8c8c"/>
<rect x="449.4" y="883.4" width="1" height="1" fill="#a6a6a6"/>
<rect x="449.2" y="844.9" width="1" height="1" fill="#8a8a8a"/>
<rect x="515.0" y="770.9" width="1" height="1" fill="#777"/>
<rect x="602.7" y="898.1" width="1" height="1" fill="#8a8a8a"/>
<rect x="459.8" y="821.1" width="1" height="1" fill="#8a8a8a"/>
<rect x="523.5" y="734.8" width="1" height="1" fill="#999"/>
<rect x="570.5" y="694.7" width="1" height="1" fill="#777"/>
<rect x="431.1" y="708.3" width="1" height="1" fill="#a0a0a0"/>
<rect x="621.3" y="798.9" width="1" height="1" fill="#8a8a8a"/>
<rect x="561.4" y="716.5" width="1" height="1" fill="#8c8c8c"/>
<rect x="621.6" y="733.1" width="1" height="1" fill="#8a8a8a"/>
<rect x="458.8" y="694.6" width="1" height="1" fill="#777"/>
<rect x="473.6" y="755.3" width="1" height="1" fill="#777"/>
<rect x="501.3" y="753.7" width="1" height="1" fill="#8a8a8a"/>
<rect x="498.8" y="768.3" width="1" height="1" fill="#8a8a8a"/>
<rect x="606.1" y="822.8" width="1" height="1" fill="#a6a6a6"/>
<rect x="590.9" y="829.0" width="1" height="1" fill="#999"/>
<rect x="608.3" y="695.0" width="1" height="1" fill="#777"/>
<rect x="513.2" y="810.3" width="1" height="1" fill="#777"/>
<rect x="497.1" y="839.7" width="1" height="1" fill="#a6a6a6"/>
<rect x="546.2" y="832.0" width="1" height="1" fill="#8a8a8a"/>
<rect x="611.5" y="851.3" width="1" height="1" fill="#777"/>
<rect x="537.3" y="902.4" width="1" height="1" fill="#a6a6a6"/>
<rect x="467.6" y="721.8" width="1" height="1" fill="#a0a0a0"/>
<rect x="554.4" y="883.0" width="1" height="1" fill="#a6a6a6"/>
<rect x="592.2" y="862.7" width="1" height="1" fill="#8a8a8a"/>
<rect x="565.1" y="766.1" width="1" height="1" fill="#a6a6a6"/>
<rect x="512.6" y="703.4" width="1" height="1" fill="#a0a0a0"/>
<rect x="478.5" y="781.6" width="1" height="1" fill="#777"/>
<rect x="570.9" y="722.3" width="1" height="1" fill="#999"/>
<rect x="418.7" y="712.7" width="1" height="1" fill="#a0a0a0"/>
<rect x="526.8" y="736.1" width="1" height="1" fill="#a6a6a6"/>
<rect x="471.2" y="742.1" width="1" height="1" fill="#777"/>
<rect x="597.9" y="728.2" width="1" height="1" fill="#a6a6a6"/>
<rect x="547.3" y="765.3" width="1" height="1" fill="#777"/>
<rect x="496.4" y="693.3" width="1" height="1" fill="#777"/>
<rect x="596.4" y="810.9" width="1" height="1" fill="#8a8a8a"/>
<rect x="486.7" y="699.7" width="1" height="1" fill="#a0a0a0"/>
<rect x="497.2" y="799.0" width="1" height="1" fill="#999"/>
<rect x="454.5" y="698.4" width="1" height="1" fill="#a0a0a0"/>
<rect x="558.3" y="845.8" width="1" height="1" fill="#999"/>
<rect x="611.9" y="748.4" width="1" height="1" fill="#777"/>
<rect x="579.2" y="710.0" width="1" height="1" fill="#999"/>
<rect x="595.6" y="808.9" width="1" height="1" fill="#777"/>
<rect x="518.9" y="696.2" width="1" height="1" fill="#a0a0a0"/>
<rect x="594.7" y="714.8" width="1" height="1" fill="#a0a0a0"/>
<rect x="589.0" y="874.5" width="1" height="1" fill="#a6a6a6"/>
<rect x="457.5" y="898.6" width="1" height="1" fill="#a6a6a6"/>
<rect x="526.7" y="703.1" width="1" height="1" fill="#a0a0a0"/>
<rect x="524.8" y="775.9" width="1" height="1" fill="#a6a6a6"/>
<rect x="469.7" y="767.2" width="1" height="1" fill="#a6a6a6"/>
<rect x="481.5" y="713.0" width="1" height="1" fill="#999"/>
<rect x="530.2" y="765.8" width="1" height="1" fill="#777"/>
<rect x="566.6" y="715.0" width="1" height="1" fill="#777"/>
<rect x="428.2" y="752.8" width="1" height="1" fill="#777"/>
<rect x="617.3" y="863.9" width="1" height="1" fill="#8a8a8a"/>
<rect x="586.0" y="813.5" width="1" height="1" fill="#777"/>
<rect x="460.3" y="728.6" width="1" height="1" fill="#999"/>
<rect x="427.8" y="872.5" width="1" height="1" fill="#777"/>
<rect x="559.2" y="748.6" width="1" height="1" fill="#8a8a8a"/>
<rect x="448.1" y="884.6" width="1" height="1" fill="#999"/>
<rect x="515.3" y="728.2" width="1" height="1" fill="#999"/>
<rect x="504.6" y="828.0" width="1" height="1" fill="#777"/>
<rect x="561.5" y="718.0" width="1" height="1" fill="#8c8c8c"/>
<rect x="611.5" y="713.3" width="1" height="1" fill="#999"/>
<rect x="593.1" y="748.3" width="1" height="1" fill="#a6a6a6"/>
<rect x="566.0" y="841.2" width="1" height="1" fill="#a6a6a6"/>
<rect x="485.6" y="867.9" width="1" height="1" fill="#8a8a8a"/>
<rect x="499.7" y="691.4" width="1" height="1" fill="#a0a0a0"/>
<rect x="563.3" y="727.5" width="1" height="1" fill="#999"/>
<rect x="441.5" y="865.1" width="1" height="1" fill="#8a8a8a"/>
<rect x="626.7" y="889.3" width="1" height="1" fill="#a6a6a6"/>
<rect x="520.4" y="688.1" width="1" height="1" fill="#a0a0a0"/>
<rect x="604.3" y="883.5" width="1" height="1" fill="#a6a6a6"/>
<rect x="598.9" y="814.7" width="1" height="1" fill="#999"/>
<rect x="480.5" y="810.8" width="1" height="1" fill="#999"/>
<rect x="428.0" y="756.9" width="1" height="1" fill="#8a8a8a"/>
<rect x="486.7" y="763.7" width="1" height="1" fill="#a6a6a6"/>
<rect x="587.4" y="842.2" width="1" height="1" fill="#999"/>
<rect x="583.0" y="814.2" width="1" height="1" fill="#999"/>
<rect x="425.8" y="810.6" width="1" height="1" fill="#8a8a8a"/>
<rect x="415.5" y="682.2" width="214.0" height="222.29999999999995" fill="none" stroke="#111" stroke-width="2"/>
<text x="397.60" y="709.10" font-size="12" text-anchor="end" font-weight="bold" fill="#000" >273</text>
<polygon points="400.9,703.7 412.2,707.7 400.9,711.7" fill="#000"/>
<text x="397.60" y="751.10" font-size="12" text-anchor="end" font-weight="bold" fill="#000" >114</text>
<polygon points="400.9,742.9 412.2,746.9 400.9,750.9" fill="#000"/>
<text x="397.60" y="769.00" font-size="12" text-anchor="end" font-weight="bold" fill="#000" >84.7</text>
<polygon points="400.9,760.8 412.2,764.8 400.9,768.8" fill="#000"/>
<text x="397.60" y="785.50" font-size="12" text-anchor="end" font-weight="bold" fill="#000" >61.6</text>
<polygon points="400.9,777.3 412.2,781.3 400.9,785.3" fill="#000"/>
<text x="397.60" y="799.90" font-size="12" text-anchor="end" font-weight="bold" fill="#000" >47.3</text>
<polygon points="400.9,791.7 412.2,795.7 400.9,799.7" fill="#000"/>
<text x="397.60" y="812.80" font-size="12" text-anchor="end" font-weight="bold" fill="#000" >38.9</text>
<polygon points="400.9,804.6 412.2,808.6 400.9,812.6" fill="#000"/>
<text x="397.60" y="825.90" font-size="12" text-anchor="end" font-weight="bold" fill="#000" >31.3</text>
<polygon points="400.9,817.7 412.2,821.7 400.9,825.7" fill="#000"/>
<text x="397.60" y="837.70" font-size="12" text-anchor="end" font-weight="bold" fill="#000" >25.7</text>
<polygon points="400.9,829.5 412.2,833.5 400.9,837.5" fill="#000"/>
<text x="397.60" y="857.70" font-size="12" text-anchor="end" font-weight="bold" fill="#000" >17.4</text>
<polygon points="400.9,849.5 412.2,853.5 400.9,857.5" fill="#000"/>
<text x="397.60" y="876.80" font-size="12" text-anchor="end" font-weight="bold" fill="#000" >8.6</text>
<polygon points="400.9,868.6 412.2,872.6 400.9,876.6" fill="#000"/>
</svg></body></html>
